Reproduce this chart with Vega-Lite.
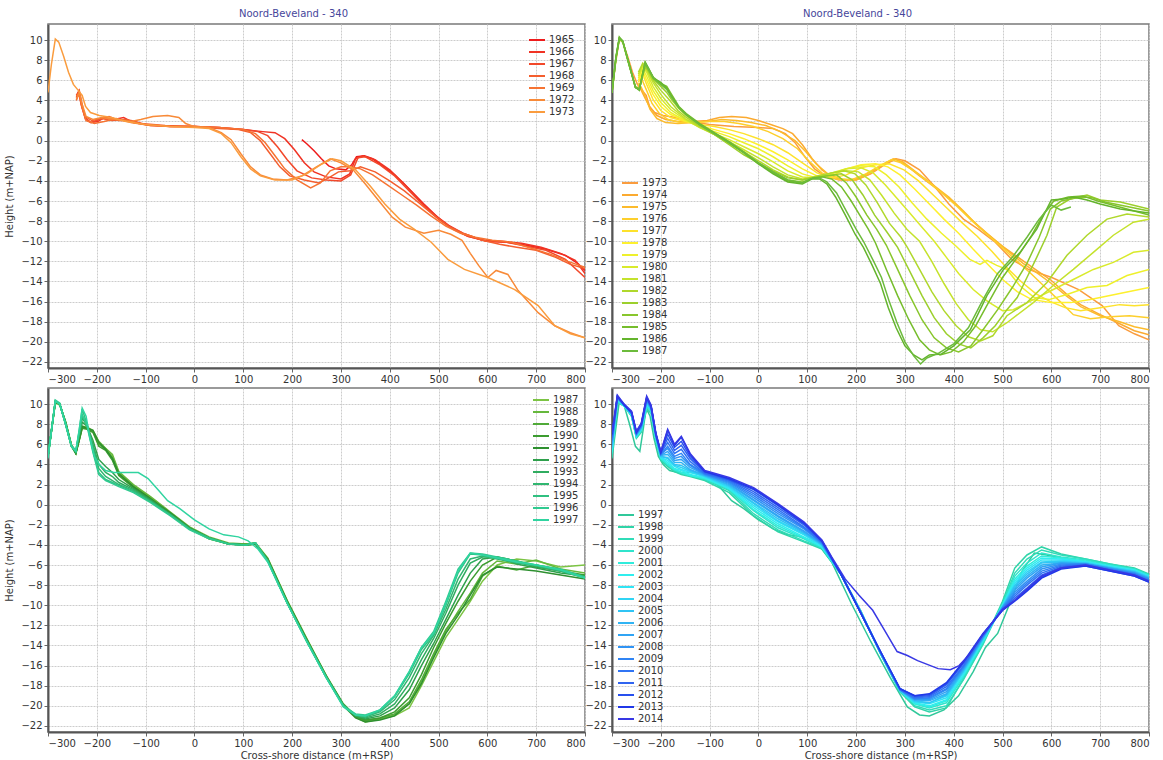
{
"$schema":"https://vega.github.io/schema/vega-lite/v6.json",
"background":"white",
"padding":{"left":4,"top":8,"right":6,"bottom":2},
"config":{
"font":"DejaVu Sans",
"view":{"stroke":"#7a7a7a","strokeWidth":1.5},
"axis":{"labelFont":"DejaVu Sans","labelFontSize":10,"labelColor":"#333333","gridColor":"#cccccc","gridDash":[2,1],"gridWidth":1,"domainColor":"#555555","domainWidth":2,"tickColor":"#666666","tickSize":4,"labelPadding":2,"titleFont":"DejaVu Sans","titleFontSize":10,"titleFontWeight":"normal","titleColor":"#333333"},
"legend":{"labelFont":"DejaVu Sans","labelFontSize":10,"labelColor":"#333333","symbolType":"M-1.6,0H1.6","symbolStrokeWidth":2,"symbolSize":100,"rowPadding":1,"padding":0,"labelOffset":6,"title":null},
"title":{"font":"DejaVu Sans","fontSize":10,"fontWeight":"normal","color":"#46469b"}
},
"resolve":{"scale":{"color":"independent"},"legend":{"color":"independent"}},
"datasets":{
"tl":[
{"yr":1965,"x":220,"h":0.1},{"yr":1965,"x":230,"h":-0.3},{"yr":1965,"x":245,"h":-1.0},{"yr":1965,"x":260,"h":-1.8},{"yr":1965,"x":275,"h":-2.5},{"yr":1965,"x":290,"h":-2.8},{"yr":1965,"x":310,"h":-2.9},{"yr":1965,"x":322,"h":-2.4},{"yr":1965,"x":332,"h":-1.6},{"yr":1965,"x":348,"h":-1.5},{"yr":1965,"x":365,"h":-1.8},{"yr":1965,"x":385,"h":-2.5},{"yr":1965,"x":410,"h":-3.4},{"yr":1965,"x":440,"h":-4.8},{"yr":1965,"x":470,"h":-6.3},{"yr":1965,"x":500,"h":-7.7},{"yr":1965,"x":530,"h":-8.8},{"yr":1965,"x":560,"h":-9.5},{"yr":1965,"x":600,"h":-10.0},{"yr":1965,"x":640,"h":-10.1},{"yr":1965,"x":680,"h":-10.4},{"yr":1965,"x":720,"h":-10.8},{"yr":1965,"x":760,"h":-11.4},{"yr":1965,"x":785,"h":-12.2},{"yr":1965,"x":800,"h":-12.9},
{"yr":1966,"x":-242,"h":4.3},{"yr":1966,"x":-237,"h":4.9},{"yr":1966,"x":-231,"h":3.4},{"yr":1966,"x":-223,"h":2.1},{"yr":1966,"x":-212,"h":1.8},{"yr":1966,"x":-198,"h":1.9},{"yr":1966,"x":-185,"h":2.3},{"yr":1966,"x":-165,"h":2.1},{"yr":1966,"x":-145,"h":2.3},{"yr":1966,"x":-125,"h":1.8},{"yr":1966,"x":-90,"h":1.5},{"yr":1966,"x":-50,"h":1.4},{"yr":1966,"x":0,"h":1.4},{"yr":1966,"x":50,"h":1.3},{"yr":1966,"x":100,"h":1.1},{"yr":1966,"x":140,"h":0.9},{"yr":1966,"x":165,"h":0.8},{"yr":1966,"x":185,"h":0.2},{"yr":1966,"x":205,"h":-0.9},{"yr":1966,"x":225,"h":-2.2},{"yr":1966,"x":245,"h":-3.1},{"yr":1966,"x":270,"h":-3.6},{"yr":1966,"x":300,"h":-3.8},{"yr":1966,"x":318,"h":-3.3},{"yr":1966,"x":330,"h":-1.8},{"yr":1966,"x":345,"h":-1.5},{"yr":1966,"x":370,"h":-1.9},{"yr":1966,"x":400,"h":-2.9},{"yr":1966,"x":430,"h":-4.3},{"yr":1966,"x":460,"h":-5.9},{"yr":1966,"x":490,"h":-7.3},{"yr":1966,"x":520,"h":-8.4},{"yr":1966,"x":550,"h":-9.2},{"yr":1966,"x":590,"h":-9.9},{"yr":1966,"x":630,"h":-10.0},{"yr":1966,"x":670,"h":-10.2},{"yr":1966,"x":710,"h":-10.6},{"yr":1966,"x":750,"h":-11.2},{"yr":1966,"x":780,"h":-11.9},{"yr":1966,"x":800,"h":-13.2},
{"yr":1967,"x":-242,"h":4.5},{"yr":1967,"x":-236,"h":5.0},{"yr":1967,"x":-231,"h":3.8},{"yr":1967,"x":-224,"h":2.3},{"yr":1967,"x":-212,"h":1.8},{"yr":1967,"x":-195,"h":2.1},{"yr":1967,"x":-175,"h":2.4},{"yr":1967,"x":-155,"h":2.0},{"yr":1967,"x":-130,"h":2.0},{"yr":1967,"x":-100,"h":1.6},{"yr":1967,"x":-50,"h":1.4},{"yr":1967,"x":0,"h":1.4},{"yr":1967,"x":50,"h":1.3},{"yr":1967,"x":100,"h":1.1},{"yr":1967,"x":130,"h":0.9},{"yr":1967,"x":150,"h":0.5},{"yr":1967,"x":170,"h":-0.6},{"yr":1967,"x":190,"h":-1.9},{"yr":1967,"x":210,"h":-3.0},{"yr":1967,"x":240,"h":-3.7},{"yr":1967,"x":270,"h":-3.9},{"yr":1967,"x":300,"h":-4.0},{"yr":1967,"x":320,"h":-3.4},{"yr":1967,"x":335,"h":-1.7},{"yr":1967,"x":350,"h":-1.6},{"yr":1967,"x":380,"h":-2.4},{"yr":1967,"x":410,"h":-3.5},{"yr":1967,"x":440,"h":-5.0},{"yr":1967,"x":470,"h":-6.5},{"yr":1967,"x":500,"h":-7.8},{"yr":1967,"x":530,"h":-8.8},{"yr":1967,"x":560,"h":-9.5},{"yr":1967,"x":600,"h":-10.0},{"yr":1967,"x":640,"h":-10.1},{"yr":1967,"x":680,"h":-10.5},{"yr":1967,"x":720,"h":-10.9},{"yr":1967,"x":760,"h":-11.8},{"yr":1967,"x":800,"h":-13.6},
{"yr":1968,"x":-242,"h":4.0},{"yr":1968,"x":-237,"h":4.7},{"yr":1968,"x":-232,"h":3.6},{"yr":1968,"x":-224,"h":2.4},{"yr":1968,"x":-210,"h":2.0},{"yr":1968,"x":-190,"h":2.2},{"yr":1968,"x":-170,"h":2.0},{"yr":1968,"x":-140,"h":2.1},{"yr":1968,"x":-110,"h":1.7},{"yr":1968,"x":-60,"h":1.5},{"yr":1968,"x":0,"h":1.4},{"yr":1968,"x":50,"h":1.2},{"yr":1968,"x":90,"h":1.1},{"yr":1968,"x":115,"h":0.8},{"yr":1968,"x":135,"h":0.0},{"yr":1968,"x":155,"h":-1.3},{"yr":1968,"x":175,"h":-2.6},{"yr":1968,"x":195,"h":-3.5},{"yr":1968,"x":225,"h":-3.9},{"yr":1968,"x":255,"h":-4.2},{"yr":1968,"x":275,"h":-3.7},{"yr":1968,"x":295,"h":-3.1},{"yr":1968,"x":320,"h":-3.0},{"yr":1968,"x":340,"h":-2.6},{"yr":1968,"x":370,"h":-3.1},{"yr":1968,"x":400,"h":-4.0},{"yr":1968,"x":430,"h":-5.0},{"yr":1968,"x":460,"h":-6.2},{"yr":1968,"x":490,"h":-7.4},{"yr":1968,"x":520,"h":-8.5},{"yr":1968,"x":550,"h":-9.2},{"yr":1968,"x":590,"h":-9.9},{"yr":1968,"x":625,"h":-10.3},{"yr":1968,"x":660,"h":-10.6},{"yr":1968,"x":700,"h":-10.9},{"yr":1968,"x":740,"h":-11.6},{"yr":1968,"x":770,"h":-12.3},{"yr":1968,"x":800,"h":-12.7},
{"yr":1969,"x":-242,"h":4.4},{"yr":1969,"x":-236,"h":4.8},{"yr":1969,"x":-230,"h":3.3},{"yr":1969,"x":-222,"h":2.0},{"yr":1969,"x":-205,"h":1.7},{"yr":1969,"x":-185,"h":1.9},{"yr":1969,"x":-160,"h":2.2},{"yr":1969,"x":-130,"h":1.8},{"yr":1969,"x":-90,"h":1.5},{"yr":1969,"x":-40,"h":1.4},{"yr":1969,"x":0,"h":1.4},{"yr":1969,"x":50,"h":1.3},{"yr":1969,"x":100,"h":1.1},{"yr":1969,"x":125,"h":0.7},{"yr":1969,"x":145,"h":-0.2},{"yr":1969,"x":165,"h":-1.5},{"yr":1969,"x":185,"h":-2.8},{"yr":1969,"x":210,"h":-3.9},{"yr":1969,"x":238,"h":-4.7},{"yr":1969,"x":258,"h":-4.2},{"yr":1969,"x":278,"h":-3.0},{"yr":1969,"x":300,"h":-2.6},{"yr":1969,"x":320,"h":-2.6},{"yr":1969,"x":340,"h":-2.8},{"yr":1969,"x":365,"h":-3.4},{"yr":1969,"x":395,"h":-4.4},{"yr":1969,"x":425,"h":-5.4},{"yr":1969,"x":455,"h":-6.4},{"yr":1969,"x":485,"h":-7.5},{"yr":1969,"x":515,"h":-8.5},{"yr":1969,"x":545,"h":-9.2},{"yr":1969,"x":575,"h":-9.6},{"yr":1969,"x":610,"h":-9.9},{"yr":1969,"x":650,"h":-10.1},{"yr":1969,"x":690,"h":-10.7},{"yr":1969,"x":730,"h":-11.3},{"yr":1969,"x":765,"h":-12.0},{"yr":1969,"x":800,"h":-12.6},
{"yr":1972,"x":-242,"h":4.1},{"yr":1972,"x":-236,"h":4.8},{"yr":1972,"x":-230,"h":3.6},{"yr":1972,"x":-222,"h":2.4},{"yr":1972,"x":-208,"h":2.1},{"yr":1972,"x":-190,"h":2.3},{"yr":1972,"x":-160,"h":2.1},{"yr":1972,"x":-130,"h":1.9},{"yr":1972,"x":-110,"h":2.1},{"yr":1972,"x":-85,"h":2.4},{"yr":1972,"x":-55,"h":2.5},{"yr":1972,"x":-32,"h":2.3},{"yr":1972,"x":-18,"h":1.7},{"yr":1972,"x":0,"h":1.4},{"yr":1972,"x":30,"h":1.3},{"yr":1972,"x":55,"h":0.8},{"yr":1972,"x":75,"h":0.1},{"yr":1972,"x":95,"h":-1.3},{"yr":1972,"x":115,"h":-2.6},{"yr":1972,"x":135,"h":-3.4},{"yr":1972,"x":160,"h":-3.8},{"yr":1972,"x":190,"h":-3.9},{"yr":1972,"x":220,"h":-3.5},{"yr":1972,"x":250,"h":-2.6},{"yr":1972,"x":278,"h":-1.8},{"yr":1972,"x":300,"h":-2.2},{"yr":1972,"x":325,"h":-2.9},{"yr":1972,"x":350,"h":-4.3},{"yr":1972,"x":378,"h":-6.0},{"yr":1972,"x":405,"h":-7.6},{"yr":1972,"x":432,"h":-8.6},{"yr":1972,"x":470,"h":-9.2},{"yr":1972,"x":500,"h":-8.9},{"yr":1972,"x":525,"h":-9.3},{"yr":1972,"x":548,"h":-9.9},{"yr":1972,"x":565,"h":-11.2},{"yr":1972,"x":582,"h":-12.4},{"yr":1972,"x":601,"h":-13.6},{"yr":1972,"x":618,"h":-12.9},{"yr":1972,"x":642,"h":-13.3},{"yr":1972,"x":663,"h":-14.9},{"yr":1972,"x":704,"h":-17.1},{"yr":1972,"x":738,"h":-18.4},{"yr":1972,"x":770,"h":-19.1},{"yr":1972,"x":800,"h":-19.6},
{"yr":1973,"x":-300,"h":4.8},{"yr":1973,"x":-293,"h":7.6},{"yr":1973,"x":-285,"h":10.1},{"yr":1973,"x":-278,"h":9.8},{"yr":1973,"x":-268,"h":8.4},{"yr":1973,"x":-258,"h":6.8},{"yr":1973,"x":-248,"h":5.6},{"yr":1973,"x":-238,"h":5.0},{"yr":1973,"x":-230,"h":4.5},{"yr":1973,"x":-223,"h":3.4},{"yr":1973,"x":-213,"h":2.8},{"yr":1973,"x":-195,"h":2.5},{"yr":1973,"x":-170,"h":2.3},{"yr":1973,"x":-140,"h":1.9},{"yr":1973,"x":-100,"h":1.6},{"yr":1973,"x":-50,"h":1.4},{"yr":1973,"x":0,"h":1.3},{"yr":1973,"x":30,"h":1.2},{"yr":1973,"x":55,"h":0.7},{"yr":1973,"x":75,"h":-0.2},{"yr":1973,"x":95,"h":-1.6},{"yr":1973,"x":115,"h":-2.8},{"yr":1973,"x":135,"h":-3.5},{"yr":1973,"x":165,"h":-3.9},{"yr":1973,"x":200,"h":-3.9},{"yr":1973,"x":230,"h":-3.3},{"yr":1973,"x":258,"h":-2.4},{"yr":1973,"x":282,"h":-1.8},{"yr":1973,"x":300,"h":-2.0},{"yr":1973,"x":330,"h":-2.9},{"yr":1973,"x":360,"h":-4.5},{"yr":1973,"x":390,"h":-6.3},{"yr":1973,"x":420,"h":-7.8},{"yr":1973,"x":450,"h":-8.8},{"yr":1973,"x":485,"h":-10.1},{"yr":1973,"x":519,"h":-11.8},{"yr":1973,"x":553,"h":-12.8},{"yr":1973,"x":601,"h":-13.6},{"yr":1973,"x":656,"h":-14.8},{"yr":1973,"x":704,"h":-16.4},{"yr":1973,"x":738,"h":-18.4},{"yr":1973,"x":770,"h":-19.2},{"yr":1973,"x":800,"h":-19.6}
],
"tr":[
{"yr":1973,"x":-300,"h":4.8},{"yr":1973,"x":-293,"h":7.6},{"yr":1973,"x":-285,"h":10.1},{"yr":1973,"x":-278,"h":9.8},{"yr":1973,"x":-268,"h":8.4},{"yr":1973,"x":-258,"h":6.8},{"yr":1973,"x":-248,"h":5.6},{"yr":1973,"x":-238,"h":5.0},{"yr":1973,"x":-230,"h":4.5},{"yr":1973,"x":-223,"h":3.4},{"yr":1973,"x":-213,"h":2.8},{"yr":1973,"x":-195,"h":2.5},{"yr":1973,"x":-170,"h":2.3},{"yr":1973,"x":-140,"h":1.9},{"yr":1973,"x":-100,"h":1.6},{"yr":1973,"x":-50,"h":1.4},{"yr":1973,"x":0,"h":1.3},{"yr":1973,"x":30,"h":1.2},{"yr":1973,"x":55,"h":0.7},{"yr":1973,"x":75,"h":-0.2},{"yr":1973,"x":95,"h":-1.6},{"yr":1973,"x":115,"h":-2.8},{"yr":1973,"x":135,"h":-3.5},{"yr":1973,"x":165,"h":-3.9},{"yr":1973,"x":200,"h":-3.9},{"yr":1973,"x":230,"h":-3.3},{"yr":1973,"x":258,"h":-2.4},{"yr":1973,"x":282,"h":-1.8},{"yr":1973,"x":300,"h":-2.0},{"yr":1973,"x":330,"h":-2.9},{"yr":1973,"x":360,"h":-4.5},{"yr":1973,"x":390,"h":-6.3},{"yr":1973,"x":420,"h":-7.8},{"yr":1973,"x":450,"h":-8.8},{"yr":1973,"x":485,"h":-10.1},{"yr":1973,"x":519,"h":-11.8},{"yr":1973,"x":553,"h":-12.8},{"yr":1973,"x":601,"h":-13.6},{"yr":1973,"x":656,"h":-14.8},{"yr":1973,"x":704,"h":-16.4},{"yr":1973,"x":738,"h":-18.4},{"yr":1973,"x":770,"h":-19.2},{"yr":1973,"x":800,"h":-19.8},
{"yr":1974,"x":-246,"h":5.4},{"yr":1974,"x":-240,"h":5.0},{"yr":1974,"x":-232,"h":4.2},{"yr":1974,"x":-222,"h":3.3},{"yr":1974,"x":-208,"h":2.5},{"yr":1974,"x":-190,"h":2.1},{"yr":1974,"x":-165,"h":1.9},{"yr":1974,"x":-135,"h":1.9},{"yr":1974,"x":-105,"h":2.0},{"yr":1974,"x":-80,"h":2.3},{"yr":1974,"x":-55,"h":2.4},{"yr":1974,"x":-25,"h":2.3},{"yr":1974,"x":0,"h":2.0},{"yr":1974,"x":25,"h":1.6},{"yr":1974,"x":50,"h":1.2},{"yr":1974,"x":70,"h":0.7},{"yr":1974,"x":90,"h":-0.4},{"yr":1974,"x":110,"h":-1.8},{"yr":1974,"x":130,"h":-2.9},{"yr":1974,"x":150,"h":-3.6},{"yr":1974,"x":175,"h":-3.9},{"yr":1974,"x":200,"h":-3.8},{"yr":1974,"x":230,"h":-3.1},{"yr":1974,"x":258,"h":-2.3},{"yr":1974,"x":280,"h":-1.8},{"yr":1974,"x":302,"h":-2.4},{"yr":1974,"x":330,"h":-3.5},{"yr":1974,"x":360,"h":-4.6},{"yr":1974,"x":400,"h":-6.1},{"yr":1974,"x":435,"h":-7.8},{"yr":1974,"x":468,"h":-9.2},{"yr":1974,"x":500,"h":-10.5},{"yr":1974,"x":535,"h":-11.7},{"yr":1974,"x":570,"h":-12.9},{"yr":1974,"x":600,"h":-13.9},{"yr":1974,"x":630,"h":-15.2},{"yr":1974,"x":660,"h":-16.3},{"yr":1974,"x":700,"h":-17.3},{"yr":1974,"x":740,"h":-18.2},{"yr":1974,"x":770,"h":-18.9},{"yr":1974,"x":800,"h":-19.3},
{"yr":1975,"x":-246,"h":5.7},{"yr":1975,"x":-240,"h":5.3},{"yr":1975,"x":-232,"h":4.4},{"yr":1975,"x":-222,"h":3.1},{"yr":1975,"x":-208,"h":2.2},{"yr":1975,"x":-190,"h":1.8},{"yr":1975,"x":-165,"h":1.7},{"yr":1975,"x":-135,"h":1.8},{"yr":1975,"x":-105,"h":1.9},{"yr":1975,"x":-75,"h":2.1},{"yr":1975,"x":-45,"h":2.0},{"yr":1975,"x":-15,"h":1.8},{"yr":1975,"x":15,"h":1.5},{"yr":1975,"x":45,"h":0.9},{"yr":1975,"x":75,"h":0.0},{"yr":1975,"x":97,"h":-1.1},{"yr":1975,"x":118,"h":-2.3},{"yr":1975,"x":142,"h":-3.3},{"yr":1975,"x":168,"h":-3.8},{"yr":1975,"x":200,"h":-3.9},{"yr":1975,"x":228,"h":-3.3},{"yr":1975,"x":254,"h":-2.4},{"yr":1975,"x":276,"h":-1.8},{"yr":1975,"x":296,"h":-2.1},{"yr":1975,"x":325,"h":-3.2},{"yr":1975,"x":355,"h":-4.3},{"yr":1975,"x":390,"h":-5.6},{"yr":1975,"x":420,"h":-7.0},{"yr":1975,"x":452,"h":-8.6},{"yr":1975,"x":482,"h":-9.8},{"yr":1975,"x":512,"h":-11.0},{"yr":1975,"x":542,"h":-12.2},{"yr":1975,"x":572,"h":-13.2},{"yr":1975,"x":600,"h":-14.2},{"yr":1975,"x":630,"h":-15.4},{"yr":1975,"x":660,"h":-16.5},{"yr":1975,"x":700,"h":-17.4},{"yr":1975,"x":740,"h":-18.0},{"yr":1975,"x":770,"h":-18.5},{"yr":1975,"x":800,"h":-18.8},
{"yr":1976,"x":-246,"h":5.5},{"yr":1976,"x":-238,"h":6.0},{"yr":1976,"x":-230,"h":5.1},{"yr":1976,"x":-218,"h":3.7},{"yr":1976,"x":-203,"h":2.7},{"yr":1976,"x":-185,"h":2.1},{"yr":1976,"x":-160,"h":1.8},{"yr":1976,"x":-130,"h":1.8},{"yr":1976,"x":-100,"h":1.9},{"yr":1976,"x":-70,"h":1.9},{"yr":1976,"x":-40,"h":1.7},{"yr":1976,"x":-10,"h":1.4},{"yr":1976,"x":20,"h":0.9},{"yr":1976,"x":50,"h":0.2},{"yr":1976,"x":80,"h":-0.8},{"yr":1976,"x":105,"h":-2.1},{"yr":1976,"x":130,"h":-3.2},{"yr":1976,"x":160,"h":-3.8},{"yr":1976,"x":190,"h":-3.9},{"yr":1976,"x":220,"h":-3.3},{"yr":1976,"x":248,"h":-2.5},{"yr":1976,"x":272,"h":-1.9},{"yr":1976,"x":292,"h":-2.2},{"yr":1976,"x":318,"h":-3.0},{"yr":1976,"x":348,"h":-4.1},{"yr":1976,"x":378,"h":-5.3},{"yr":1976,"x":408,"h":-6.6},{"yr":1976,"x":438,"h":-8.0},{"yr":1976,"x":468,"h":-9.3},{"yr":1976,"x":498,"h":-10.6},{"yr":1976,"x":528,"h":-11.9},{"yr":1976,"x":558,"h":-13.2},{"yr":1976,"x":588,"h":-14.6},{"yr":1976,"x":618,"h":-16.0},{"yr":1976,"x":645,"h":-17.3},{"yr":1976,"x":680,"h":-17.7},{"yr":1976,"x":720,"h":-17.5},{"yr":1976,"x":760,"h":-17.4},{"yr":1976,"x":800,"h":-17.6},
{"yr":1977,"x":-246,"h":5.8},{"yr":1977,"x":-237,"h":6.6},{"yr":1977,"x":-229,"h":5.6},{"yr":1977,"x":-216,"h":4.1},{"yr":1977,"x":-200,"h":3.0},{"yr":1977,"x":-180,"h":2.3},{"yr":1977,"x":-150,"h":1.9},{"yr":1977,"x":-120,"h":1.6},{"yr":1977,"x":-90,"h":1.4},{"yr":1977,"x":-60,"h":1.1},{"yr":1977,"x":-30,"h":0.7},{"yr":1977,"x":0,"h":0.2},{"yr":1977,"x":30,"h":-0.4},{"yr":1977,"x":60,"h":-1.2},{"yr":1977,"x":90,"h":-2.2},{"yr":1977,"x":120,"h":-3.2},{"yr":1977,"x":150,"h":-3.7},{"yr":1977,"x":180,"h":-3.4},{"yr":1977,"x":210,"h":-2.7},{"yr":1977,"x":240,"h":-2.4},{"yr":1977,"x":268,"h":-2.3},{"yr":1977,"x":298,"h":-2.9},{"yr":1977,"x":328,"h":-4.0},{"yr":1977,"x":358,"h":-5.4},{"yr":1977,"x":388,"h":-6.8},{"yr":1977,"x":418,"h":-8.2},{"yr":1977,"x":448,"h":-9.5},{"yr":1977,"x":478,"h":-11.0},{"yr":1977,"x":508,"h":-12.6},{"yr":1977,"x":538,"h":-14.0},{"yr":1977,"x":568,"h":-15.2},{"yr":1977,"x":598,"h":-16.0},{"yr":1977,"x":628,"h":-16.6},{"yr":1977,"x":660,"h":-16.9},{"yr":1977,"x":700,"h":-16.6},{"yr":1977,"x":740,"h":-16.3},{"yr":1977,"x":770,"h":-16.4},{"yr":1977,"x":800,"h":-16.3},
{"yr":1978,"x":-246,"h":6.0},{"yr":1978,"x":-237,"h":6.9},{"yr":1978,"x":-229,"h":6.0},{"yr":1978,"x":-216,"h":4.6},{"yr":1978,"x":-200,"h":3.4},{"yr":1978,"x":-180,"h":2.6},{"yr":1978,"x":-150,"h":2.0},{"yr":1978,"x":-120,"h":1.5},{"yr":1978,"x":-90,"h":1.1},{"yr":1978,"x":-60,"h":0.7},{"yr":1978,"x":-30,"h":0.2},{"yr":1978,"x":0,"h":-0.4},{"yr":1978,"x":30,"h":-1.1},{"yr":1978,"x":60,"h":-1.9},{"yr":1978,"x":90,"h":-2.8},{"yr":1978,"x":120,"h":-3.5},{"yr":1978,"x":150,"h":-3.5},{"yr":1978,"x":180,"h":-2.8},{"yr":1978,"x":210,"h":-2.4},{"yr":1978,"x":240,"h":-2.3},{"yr":1978,"x":265,"h":-2.6},{"yr":1978,"x":290,"h":-3.4},{"yr":1978,"x":320,"h":-4.8},{"yr":1978,"x":350,"h":-6.3},{"yr":1978,"x":380,"h":-7.8},{"yr":1978,"x":410,"h":-9.2},{"yr":1978,"x":440,"h":-10.8},{"yr":1978,"x":470,"h":-12.3},{"yr":1978,"x":500,"h":-13.8},{"yr":1978,"x":530,"h":-15.0},{"yr":1978,"x":560,"h":-15.8},{"yr":1978,"x":600,"h":-16.1},{"yr":1978,"x":640,"h":-16.1},{"yr":1978,"x":680,"h":-15.8},{"yr":1978,"x":720,"h":-15.4},{"yr":1978,"x":760,"h":-15.0},{"yr":1978,"x":800,"h":-14.6},
{"yr":1979,"x":-246,"h":6.2},{"yr":1979,"x":-237,"h":7.2},{"yr":1979,"x":-229,"h":6.4},{"yr":1979,"x":-216,"h":5.0},{"yr":1979,"x":-200,"h":3.8},{"yr":1979,"x":-180,"h":2.8},{"yr":1979,"x":-150,"h":2.0},{"yr":1979,"x":-120,"h":1.4},{"yr":1979,"x":-90,"h":0.9},{"yr":1979,"x":-60,"h":0.4},{"yr":1979,"x":-30,"h":-0.2},{"yr":1979,"x":0,"h":-0.8},{"yr":1979,"x":30,"h":-1.6},{"yr":1979,"x":60,"h":-2.5},{"yr":1979,"x":90,"h":-3.3},{"yr":1979,"x":120,"h":-3.7},{"yr":1979,"x":150,"h":-3.3},{"yr":1979,"x":180,"h":-2.8},{"yr":1979,"x":210,"h":-2.5},{"yr":1979,"x":238,"h":-2.6},{"yr":1979,"x":262,"h":-3.4},{"yr":1979,"x":288,"h":-4.6},{"yr":1979,"x":315,"h":-6.2},{"yr":1979,"x":345,"h":-7.8},{"yr":1979,"x":375,"h":-9.2},{"yr":1979,"x":405,"h":-10.5},{"yr":1979,"x":433,"h":-11.8},{"yr":1979,"x":454,"h":-12.3},{"yr":1979,"x":468,"h":-11.9},{"yr":1979,"x":488,"h":-12.4},{"yr":1979,"x":509,"h":-12.8},{"yr":1979,"x":535,"h":-14.4},{"yr":1979,"x":565,"h":-15.6},{"yr":1979,"x":595,"h":-15.8},{"yr":1979,"x":632,"h":-15.3},{"yr":1979,"x":673,"h":-14.6},{"yr":1979,"x":714,"h":-14.4},{"yr":1979,"x":755,"h":-13.4},{"yr":1979,"x":800,"h":-12.8},
{"yr":1980,"x":-246,"h":6.4},{"yr":1980,"x":-237,"h":7.4},{"yr":1980,"x":-229,"h":6.8},{"yr":1980,"x":-216,"h":5.4},{"yr":1980,"x":-200,"h":4.2},{"yr":1980,"x":-180,"h":3.1},{"yr":1980,"x":-150,"h":2.1},{"yr":1980,"x":-120,"h":1.3},{"yr":1980,"x":-90,"h":0.7},{"yr":1980,"x":-60,"h":0.1},{"yr":1980,"x":-30,"h":-0.6},{"yr":1980,"x":0,"h":-1.3},{"yr":1980,"x":30,"h":-2.1},{"yr":1980,"x":60,"h":-3.0},{"yr":1980,"x":90,"h":-3.6},{"yr":1980,"x":120,"h":-3.7},{"yr":1980,"x":150,"h":-3.2},{"yr":1980,"x":180,"h":-2.8},{"yr":1980,"x":210,"h":-2.7},{"yr":1980,"x":235,"h":-3.2},{"yr":1980,"x":260,"h":-4.4},{"yr":1980,"x":285,"h":-5.8},{"yr":1980,"x":310,"h":-7.2},{"yr":1980,"x":335,"h":-8.6},{"yr":1980,"x":360,"h":-10.0},{"yr":1980,"x":385,"h":-11.6},{"yr":1980,"x":410,"h":-13.2},{"yr":1980,"x":440,"h":-14.8},{"yr":1980,"x":470,"h":-16.0},{"yr":1980,"x":500,"h":-16.9},{"yr":1980,"x":522,"h":-16.8},{"yr":1980,"x":563,"h":-15.8},{"yr":1980,"x":604,"h":-14.8},{"yr":1980,"x":645,"h":-13.8},{"yr":1980,"x":686,"h":-12.8},{"yr":1980,"x":727,"h":-12.1},{"yr":1980,"x":768,"h":-11.1},{"yr":1980,"x":800,"h":-10.9},
{"yr":1981,"x":-246,"h":6.6},{"yr":1981,"x":-237,"h":7.6},{"yr":1981,"x":-229,"h":7.0},{"yr":1981,"x":-216,"h":5.8},{"yr":1981,"x":-200,"h":4.6},{"yr":1981,"x":-180,"h":3.4},{"yr":1981,"x":-150,"h":2.2},{"yr":1981,"x":-120,"h":1.3},{"yr":1981,"x":-90,"h":0.6},{"yr":1981,"x":-60,"h":-0.1},{"yr":1981,"x":-30,"h":-0.9},{"yr":1981,"x":0,"h":-1.7},{"yr":1981,"x":30,"h":-2.6},{"yr":1981,"x":60,"h":-3.4},{"yr":1981,"x":90,"h":-3.8},{"yr":1981,"x":120,"h":-3.6},{"yr":1981,"x":150,"h":-3.2},{"yr":1981,"x":180,"h":-3.0},{"yr":1981,"x":205,"h":-3.1},{"yr":1981,"x":228,"h":-3.9},{"yr":1981,"x":252,"h":-5.4},{"yr":1981,"x":278,"h":-7.2},{"yr":1981,"x":304,"h":-8.8},{"yr":1981,"x":330,"h":-10.0},{"yr":1981,"x":355,"h":-12.0},{"yr":1981,"x":380,"h":-14.2},{"yr":1981,"x":405,"h":-16.2},{"yr":1981,"x":430,"h":-17.8},{"yr":1981,"x":455,"h":-18.8},{"yr":1981,"x":480,"h":-19.0},{"yr":1981,"x":509,"h":-18.1},{"yr":1981,"x":563,"h":-16.1},{"yr":1981,"x":604,"h":-14.4},{"yr":1981,"x":645,"h":-12.8},{"yr":1981,"x":686,"h":-11.1},{"yr":1981,"x":727,"h":-9.4},{"yr":1981,"x":768,"h":-8.1},{"yr":1981,"x":800,"h":-7.8},
{"yr":1982,"x":-246,"h":6.8},{"yr":1982,"x":-237,"h":7.7},{"yr":1982,"x":-229,"h":7.2},{"yr":1982,"x":-216,"h":6.0},{"yr":1982,"x":-200,"h":5.0},{"yr":1982,"x":-185,"h":4.2},{"yr":1982,"x":-165,"h":3.0},{"yr":1982,"x":-150,"h":2.4},{"yr":1982,"x":-120,"h":1.4},{"yr":1982,"x":-90,"h":0.6},{"yr":1982,"x":-60,"h":-0.3},{"yr":1982,"x":-30,"h":-1.1},{"yr":1982,"x":0,"h":-2.0},{"yr":1982,"x":30,"h":-2.9},{"yr":1982,"x":60,"h":-3.6},{"yr":1982,"x":90,"h":-3.9},{"yr":1982,"x":120,"h":-3.5},{"yr":1982,"x":150,"h":-3.2},{"yr":1982,"x":175,"h":-3.0},{"yr":1982,"x":198,"h":-3.3},{"yr":1982,"x":220,"h":-4.4},{"yr":1982,"x":244,"h":-6.2},{"yr":1982,"x":268,"h":-8.2},{"yr":1982,"x":292,"h":-9.6},{"yr":1982,"x":305,"h":-10.6},{"yr":1982,"x":330,"h":-12.8},{"yr":1982,"x":355,"h":-15.0},{"yr":1982,"x":380,"h":-16.9},{"yr":1982,"x":405,"h":-18.4},{"yr":1982,"x":430,"h":-19.5},{"yr":1982,"x":455,"h":-19.9},{"yr":1982,"x":480,"h":-19.4},{"yr":1982,"x":509,"h":-17.4},{"yr":1982,"x":550,"h":-16.1},{"yr":1982,"x":591,"h":-14.1},{"yr":1982,"x":632,"h":-11.4},{"yr":1982,"x":673,"h":-9.4},{"yr":1982,"x":714,"h":-7.8},{"yr":1982,"x":755,"h":-7.3},{"yr":1982,"x":800,"h":-7.6},
{"yr":1983,"x":-300,"h":4.8},{"yr":1983,"x":-292,"h":8.1},{"yr":1983,"x":-285,"h":10.1},{"yr":1983,"x":-278,"h":9.8},{"yr":1983,"x":-265,"h":7.5},{"yr":1983,"x":-252,"h":5.4},{"yr":1983,"x":-244,"h":5.2},{"yr":1983,"x":-238,"h":6.3},{"yr":1983,"x":-232,"h":7.3},{"yr":1983,"x":-226,"h":7.0},{"yr":1983,"x":-215,"h":6.1},{"yr":1983,"x":-200,"h":5.4},{"yr":1983,"x":-188,"h":4.8},{"yr":1983,"x":-178,"h":4.1},{"yr":1983,"x":-163,"h":3.2},{"yr":1983,"x":-148,"h":2.5},{"yr":1983,"x":-120,"h":1.5},{"yr":1983,"x":-90,"h":0.6},{"yr":1983,"x":-60,"h":-0.4},{"yr":1983,"x":-30,"h":-1.4},{"yr":1983,"x":0,"h":-2.2},{"yr":1983,"x":30,"h":-3.0},{"yr":1983,"x":60,"h":-3.7},{"yr":1983,"x":90,"h":-3.9},{"yr":1983,"x":120,"h":-3.6},{"yr":1983,"x":150,"h":-3.4},{"yr":1983,"x":170,"h":-3.3},{"yr":1983,"x":192,"h":-3.9},{"yr":1983,"x":214,"h":-5.4},{"yr":1983,"x":238,"h":-7.4},{"yr":1983,"x":262,"h":-9.0},{"yr":1983,"x":285,"h":-10.6},{"yr":1983,"x":310,"h":-13.0},{"yr":1983,"x":335,"h":-15.4},{"yr":1983,"x":360,"h":-17.6},{"yr":1983,"x":385,"h":-19.2},{"yr":1983,"x":410,"h":-20.2},{"yr":1983,"x":435,"h":-20.6},{"yr":1983,"x":460,"h":-19.6},{"yr":1983,"x":485,"h":-18.4},{"yr":1983,"x":509,"h":-16.8},{"yr":1983,"x":530,"h":-15.6},{"yr":1983,"x":550,"h":-13.6},{"yr":1983,"x":570,"h":-11.6},{"yr":1983,"x":591,"h":-9.4},{"yr":1983,"x":611,"h":-6.6},{"yr":1983,"x":638,"h":-5.8},{"yr":1983,"x":673,"h":-5.4},{"yr":1983,"x":700,"h":-5.9},{"yr":1983,"x":741,"h":-6.1},{"yr":1983,"x":800,"h":-6.8},
{"yr":1984,"x":-300,"h":4.8},{"yr":1984,"x":-292,"h":8.2},{"yr":1984,"x":-285,"h":10.2},{"yr":1984,"x":-278,"h":9.9},{"yr":1984,"x":-265,"h":7.6},{"yr":1984,"x":-252,"h":5.3},{"yr":1984,"x":-244,"h":5.1},{"yr":1984,"x":-238,"h":6.4},{"yr":1984,"x":-232,"h":7.6},{"yr":1984,"x":-226,"h":7.1},{"yr":1984,"x":-215,"h":6.2},{"yr":1984,"x":-200,"h":5.6},{"yr":1984,"x":-188,"h":5.3},{"yr":1984,"x":-178,"h":4.4},{"yr":1984,"x":-163,"h":3.3},{"yr":1984,"x":-148,"h":2.6},{"yr":1984,"x":-120,"h":1.6},{"yr":1984,"x":-90,"h":0.7},{"yr":1984,"x":-60,"h":-0.2},{"yr":1984,"x":-30,"h":-1.2},{"yr":1984,"x":0,"h":-2.3},{"yr":1984,"x":30,"h":-3.1},{"yr":1984,"x":60,"h":-3.9},{"yr":1984,"x":90,"h":-4.1},{"yr":1984,"x":115,"h":-3.7},{"yr":1984,"x":140,"h":-3.5},{"yr":1984,"x":160,"h":-3.4},{"yr":1984,"x":180,"h":-4.2},{"yr":1984,"x":200,"h":-5.6},{"yr":1984,"x":222,"h":-7.4},{"yr":1984,"x":242,"h":-8.8},{"yr":1984,"x":262,"h":-10.4},{"yr":1984,"x":285,"h":-12.8},{"yr":1984,"x":310,"h":-15.4},{"yr":1984,"x":335,"h":-17.8},{"yr":1984,"x":360,"h":-19.6},{"yr":1984,"x":385,"h":-20.6},{"yr":1984,"x":410,"h":-21.0},{"yr":1984,"x":435,"h":-20.4},{"yr":1984,"x":460,"h":-18.8},{"yr":1984,"x":490,"h":-16.8},{"yr":1984,"x":520,"h":-14.6},{"yr":1984,"x":550,"h":-12.2},{"yr":1984,"x":575,"h":-9.6},{"yr":1984,"x":598,"h":-6.8},{"yr":1984,"x":620,"h":-6.0},{"yr":1984,"x":650,"h":-5.7},{"yr":1984,"x":680,"h":-5.6},{"yr":1984,"x":710,"h":-6.1},{"yr":1984,"x":750,"h":-6.5},{"yr":1984,"x":800,"h":-7.0},
{"yr":1985,"x":-300,"h":4.8},{"yr":1985,"x":-292,"h":8.2},{"yr":1985,"x":-285,"h":10.2},{"yr":1985,"x":-278,"h":9.9},{"yr":1985,"x":-265,"h":7.6},{"yr":1985,"x":-252,"h":5.3},{"yr":1985,"x":-244,"h":5.1},{"yr":1985,"x":-238,"h":6.5},{"yr":1985,"x":-232,"h":7.8},{"yr":1985,"x":-226,"h":7.2},{"yr":1985,"x":-215,"h":6.3},{"yr":1985,"x":-200,"h":5.7},{"yr":1985,"x":-188,"h":5.4},{"yr":1985,"x":-178,"h":4.6},{"yr":1985,"x":-163,"h":3.4},{"yr":1985,"x":-148,"h":2.7},{"yr":1985,"x":-120,"h":1.7},{"yr":1985,"x":-90,"h":0.8},{"yr":1985,"x":-60,"h":-0.1},{"yr":1985,"x":-30,"h":-1.1},{"yr":1985,"x":0,"h":-2.2},{"yr":1985,"x":30,"h":-3.2},{"yr":1985,"x":60,"h":-4.0},{"yr":1985,"x":90,"h":-4.2},{"yr":1985,"x":112,"h":-3.7},{"yr":1985,"x":130,"h":-3.6},{"yr":1985,"x":150,"h":-3.8},{"yr":1985,"x":170,"h":-4.6},{"yr":1985,"x":190,"h":-6.0},{"yr":1985,"x":210,"h":-7.6},{"yr":1985,"x":225,"h":-8.8},{"yr":1985,"x":240,"h":-10.2},{"yr":1985,"x":262,"h":-12.8},{"yr":1985,"x":285,"h":-15.4},{"yr":1985,"x":308,"h":-17.8},{"yr":1985,"x":330,"h":-19.8},{"yr":1985,"x":350,"h":-20.8},{"yr":1985,"x":372,"h":-21.3},{"yr":1985,"x":395,"h":-21.0},{"yr":1985,"x":420,"h":-20.0},{"yr":1985,"x":445,"h":-18.4},{"yr":1985,"x":470,"h":-16.2},{"yr":1985,"x":500,"h":-13.6},{"yr":1985,"x":530,"h":-11.6},{"yr":1985,"x":560,"h":-9.4},{"yr":1985,"x":585,"h":-7.2},{"yr":1985,"x":605,"h":-6.0},{"yr":1985,"x":635,"h":-5.6},{"yr":1985,"x":665,"h":-5.5},{"yr":1985,"x":695,"h":-6.0},{"yr":1985,"x":740,"h":-6.6},{"yr":1985,"x":800,"h":-7.4},
{"yr":1986,"x":-300,"h":4.8},{"yr":1986,"x":-292,"h":8.3},{"yr":1986,"x":-285,"h":10.3},{"yr":1986,"x":-278,"h":9.9},{"yr":1986,"x":-265,"h":7.6},{"yr":1986,"x":-252,"h":5.3},{"yr":1986,"x":-244,"h":5.0},{"yr":1986,"x":-238,"h":6.5},{"yr":1986,"x":-232,"h":7.8},{"yr":1986,"x":-226,"h":7.3},{"yr":1986,"x":-215,"h":6.2},{"yr":1986,"x":-200,"h":5.8},{"yr":1986,"x":-188,"h":5.2},{"yr":1986,"x":-178,"h":4.4},{"yr":1986,"x":-163,"h":3.3},{"yr":1986,"x":-148,"h":2.6},{"yr":1986,"x":-120,"h":1.6},{"yr":1986,"x":-90,"h":0.7},{"yr":1986,"x":-60,"h":-0.2},{"yr":1986,"x":-30,"h":-1.2},{"yr":1986,"x":0,"h":-2.3},{"yr":1986,"x":30,"h":-3.3},{"yr":1986,"x":60,"h":-4.1},{"yr":1986,"x":90,"h":-4.3},{"yr":1986,"x":110,"h":-3.8},{"yr":1986,"x":125,"h":-3.8},{"yr":1986,"x":140,"h":-4.3},{"yr":1986,"x":158,"h":-5.6},{"yr":1986,"x":178,"h":-7.4},{"yr":1986,"x":198,"h":-9.3},{"yr":1986,"x":215,"h":-10.6},{"yr":1986,"x":233,"h":-12.4},{"yr":1986,"x":250,"h":-14.2},{"yr":1986,"x":266,"h":-16.6},{"yr":1986,"x":282,"h":-18.6},{"yr":1986,"x":300,"h":-20.4},{"yr":1986,"x":318,"h":-21.3},{"yr":1986,"x":335,"h":-21.8},{"yr":1986,"x":350,"h":-21.3},{"yr":1986,"x":375,"h":-21.2},{"yr":1986,"x":400,"h":-20.4},{"yr":1986,"x":434,"h":-18.8},{"yr":1986,"x":468,"h":-15.4},{"yr":1986,"x":502,"h":-12.8},{"yr":1986,"x":536,"h":-11.1},{"yr":1986,"x":570,"h":-8.8},{"yr":1986,"x":600,"h":-5.9},{"yr":1986,"x":625,"h":-5.8},{"yr":1986,"x":645,"h":-5.6},{"yr":1986,"x":673,"h":-5.9},{"yr":1986,"x":700,"h":-6.3},{"yr":1986,"x":741,"h":-6.8},{"yr":1986,"x":800,"h":-7.2},
{"yr":1987,"x":-300,"h":4.8},{"yr":1987,"x":-292,"h":8.2},{"yr":1987,"x":-285,"h":10.2},{"yr":1987,"x":-278,"h":9.9},{"yr":1987,"x":-265,"h":7.6},{"yr":1987,"x":-252,"h":5.3},{"yr":1987,"x":-244,"h":5.1},{"yr":1987,"x":-238,"h":6.4},{"yr":1987,"x":-232,"h":7.7},{"yr":1987,"x":-226,"h":7.2},{"yr":1987,"x":-215,"h":6.2},{"yr":1987,"x":-200,"h":5.6},{"yr":1987,"x":-188,"h":5.1},{"yr":1987,"x":-178,"h":4.3},{"yr":1987,"x":-163,"h":3.3},{"yr":1987,"x":-148,"h":2.6},{"yr":1987,"x":-120,"h":1.6},{"yr":1987,"x":-90,"h":0.7},{"yr":1987,"x":-60,"h":-0.2},{"yr":1987,"x":-30,"h":-1.2},{"yr":1987,"x":0,"h":-2.2},{"yr":1987,"x":30,"h":-3.1},{"yr":1987,"x":60,"h":-3.9},{"yr":1987,"x":90,"h":-4.2},{"yr":1987,"x":112,"h":-3.7},{"yr":1987,"x":125,"h":-3.7},{"yr":1987,"x":140,"h":-4.1},{"yr":1987,"x":160,"h":-5.2},{"yr":1987,"x":180,"h":-7.0},{"yr":1987,"x":200,"h":-8.8},{"yr":1987,"x":215,"h":-10.0},{"yr":1987,"x":235,"h":-11.9},{"yr":1987,"x":252,"h":-13.6},{"yr":1987,"x":268,"h":-16.0},{"yr":1987,"x":283,"h":-18.0},{"yr":1987,"x":300,"h":-20.0},{"yr":1987,"x":318,"h":-21.4},{"yr":1987,"x":332,"h":-22.2},{"yr":1987,"x":345,"h":-21.6},{"yr":1987,"x":370,"h":-21.1},{"yr":1987,"x":400,"h":-20.2},{"yr":1987,"x":430,"h":-18.6},{"yr":1987,"x":460,"h":-15.8},{"yr":1987,"x":490,"h":-13.2},{"yr":1987,"x":520,"h":-11.6},{"yr":1987,"x":550,"h":-9.6},{"yr":1987,"x":575,"h":-7.8},{"yr":1987,"x":600,"h":-6.4},{"yr":1987,"x":620,"h":-6.9},{"yr":1987,"x":640,"h":-6.6}
],
"bl":[
{"yr":1987,"x":-300,"h":4.8},{"yr":1987,"x":-285,"h":10.1},{"yr":1987,"x":-276,"h":9.9},{"yr":1987,"x":-264,"h":8.3},{"yr":1987,"x":-252,"h":6.0},{"yr":1987,"x":-243,"h":5.1},{"yr":1987,"x":-236,"h":6.4},{"yr":1987,"x":-230,"h":7.6},{"yr":1987,"x":-220,"h":7.6},{"yr":1987,"x":-208,"h":7.2},{"yr":1987,"x":-196,"h":6.1},{"yr":1987,"x":-182,"h":5.6},{"yr":1987,"x":-168,"h":4.8},{"yr":1987,"x":-155,"h":3.2},{"yr":1987,"x":-125,"h":1.9},{"yr":1987,"x":-90,"h":0.7},{"yr":1987,"x":-50,"h":-0.8},{"yr":1987,"x":-10,"h":-2.3},{"yr":1987,"x":30,"h":-3.4},{"yr":1987,"x":70,"h":-3.9},{"yr":1987,"x":105,"h":-3.9},{"yr":1987,"x":125,"h":-3.8},{"yr":1987,"x":150,"h":-5.3},{"yr":1987,"x":190,"h":-9.5},{"yr":1987,"x":230,"h":-13.3},{"yr":1987,"x":270,"h":-17.0},{"yr":1987,"x":305,"h":-19.9},{"yr":1987,"x":330,"h":-21.1},{"yr":1987,"x":350,"h":-21.6},{"yr":1987,"x":380,"h":-21.3},{"yr":1987,"x":410,"h":-21.0},{"yr":1987,"x":440,"h":-20.2},{"yr":1987,"x":465,"h":-18.0},{"yr":1987,"x":490,"h":-15.6},{"yr":1987,"x":515,"h":-13.2},{"yr":1987,"x":540,"h":-11.4},{"yr":1987,"x":565,"h":-9.6},{"yr":1987,"x":590,"h":-7.6},{"yr":1987,"x":620,"h":-6.0},{"yr":1987,"x":660,"h":-5.4},{"yr":1987,"x":700,"h":-5.6},{"yr":1987,"x":750,"h":-6.2},{"yr":1987,"x":800,"h":-6.0},
{"yr":1988,"x":-300,"h":4.8},{"yr":1988,"x":-285,"h":10.2},{"yr":1988,"x":-276,"h":10.0},{"yr":1988,"x":-264,"h":8.2},{"yr":1988,"x":-252,"h":5.9},{"yr":1988,"x":-243,"h":5.1},{"yr":1988,"x":-236,"h":6.6},{"yr":1988,"x":-230,"h":7.8},{"yr":1988,"x":-220,"h":7.7},{"yr":1988,"x":-208,"h":7.4},{"yr":1988,"x":-196,"h":6.3},{"yr":1988,"x":-182,"h":5.6},{"yr":1988,"x":-168,"h":5.0},{"yr":1988,"x":-155,"h":3.3},{"yr":1988,"x":-125,"h":2.0},{"yr":1988,"x":-90,"h":0.8},{"yr":1988,"x":-50,"h":-0.7},{"yr":1988,"x":-10,"h":-2.2},{"yr":1988,"x":30,"h":-3.2},{"yr":1988,"x":70,"h":-3.8},{"yr":1988,"x":105,"h":-3.9},{"yr":1988,"x":125,"h":-3.9},{"yr":1988,"x":150,"h":-5.4},{"yr":1988,"x":190,"h":-9.6},{"yr":1988,"x":230,"h":-13.4},{"yr":1988,"x":270,"h":-17.1},{"yr":1988,"x":305,"h":-19.9},{"yr":1988,"x":330,"h":-21.0},{"yr":1988,"x":350,"h":-21.4},{"yr":1988,"x":380,"h":-21.3},{"yr":1988,"x":410,"h":-20.9},{"yr":1988,"x":440,"h":-19.8},{"yr":1988,"x":465,"h":-17.6},{"yr":1988,"x":490,"h":-15.0},{"yr":1988,"x":515,"h":-12.6},{"yr":1988,"x":540,"h":-10.6},{"yr":1988,"x":565,"h":-8.8},{"yr":1988,"x":590,"h":-6.8},{"yr":1988,"x":620,"h":-5.6},{"yr":1988,"x":660,"h":-5.9},{"yr":1988,"x":700,"h":-5.5},{"yr":1988,"x":750,"h":-6.4},{"yr":1988,"x":800,"h":-6.8},
{"yr":1989,"x":-300,"h":4.8},{"yr":1989,"x":-285,"h":10.2},{"yr":1989,"x":-276,"h":10.0},{"yr":1989,"x":-264,"h":8.2},{"yr":1989,"x":-252,"h":5.9},{"yr":1989,"x":-243,"h":5.1},{"yr":1989,"x":-236,"h":6.5},{"yr":1989,"x":-230,"h":7.7},{"yr":1989,"x":-220,"h":7.6},{"yr":1989,"x":-208,"h":7.3},{"yr":1989,"x":-196,"h":6.0},{"yr":1989,"x":-182,"h":5.5},{"yr":1989,"x":-168,"h":4.6},{"yr":1989,"x":-155,"h":3.0},{"yr":1989,"x":-125,"h":1.8},{"yr":1989,"x":-90,"h":0.6},{"yr":1989,"x":-50,"h":-0.8},{"yr":1989,"x":-10,"h":-2.3},{"yr":1989,"x":30,"h":-3.3},{"yr":1989,"x":70,"h":-3.9},{"yr":1989,"x":105,"h":-3.9},{"yr":1989,"x":125,"h":-3.9},{"yr":1989,"x":150,"h":-5.4},{"yr":1989,"x":190,"h":-9.6},{"yr":1989,"x":230,"h":-13.4},{"yr":1989,"x":270,"h":-17.0},{"yr":1989,"x":305,"h":-19.8},{"yr":1989,"x":330,"h":-21.0},{"yr":1989,"x":350,"h":-21.5},{"yr":1989,"x":380,"h":-21.2},{"yr":1989,"x":410,"h":-20.8},{"yr":1989,"x":440,"h":-19.6},{"yr":1989,"x":465,"h":-17.4},{"yr":1989,"x":490,"h":-14.8},{"yr":1989,"x":515,"h":-12.4},{"yr":1989,"x":540,"h":-10.8},{"yr":1989,"x":565,"h":-9.4},{"yr":1989,"x":590,"h":-7.1},{"yr":1989,"x":620,"h":-6.1},{"yr":1989,"x":660,"h":-6.5},{"yr":1989,"x":700,"h":-6.0},{"yr":1989,"x":750,"h":-6.5},{"yr":1989,"x":800,"h":-7.2},
{"yr":1990,"x":-300,"h":4.8},{"yr":1990,"x":-285,"h":10.2},{"yr":1990,"x":-276,"h":10.0},{"yr":1990,"x":-264,"h":8.1},{"yr":1990,"x":-252,"h":5.8},{"yr":1990,"x":-243,"h":5.1},{"yr":1990,"x":-236,"h":6.4},{"yr":1990,"x":-230,"h":7.6},{"yr":1990,"x":-220,"h":7.5},{"yr":1990,"x":-208,"h":7.2},{"yr":1990,"x":-196,"h":5.8},{"yr":1990,"x":-182,"h":5.4},{"yr":1990,"x":-168,"h":4.4},{"yr":1990,"x":-155,"h":2.9},{"yr":1990,"x":-125,"h":1.7},{"yr":1990,"x":-90,"h":0.5},{"yr":1990,"x":-50,"h":-0.9},{"yr":1990,"x":-10,"h":-2.4},{"yr":1990,"x":30,"h":-3.4},{"yr":1990,"x":70,"h":-3.9},{"yr":1990,"x":105,"h":-4.0},{"yr":1990,"x":125,"h":-3.9},{"yr":1990,"x":150,"h":-5.5},{"yr":1990,"x":190,"h":-9.7},{"yr":1990,"x":230,"h":-13.5},{"yr":1990,"x":270,"h":-17.1},{"yr":1990,"x":305,"h":-19.9},{"yr":1990,"x":330,"h":-21.1},{"yr":1990,"x":350,"h":-21.4},{"yr":1990,"x":380,"h":-21.2},{"yr":1990,"x":410,"h":-20.6},{"yr":1990,"x":440,"h":-19.2},{"yr":1990,"x":465,"h":-16.9},{"yr":1990,"x":490,"h":-14.2},{"yr":1990,"x":515,"h":-11.8},{"yr":1990,"x":540,"h":-9.6},{"yr":1990,"x":565,"h":-7.6},{"yr":1990,"x":590,"h":-6.0},{"yr":1990,"x":620,"h":-5.2},{"yr":1990,"x":660,"h":-5.6},{"yr":1990,"x":700,"h":-6.2},{"yr":1990,"x":750,"h":-6.6},{"yr":1990,"x":800,"h":-7.0},
{"yr":1991,"x":-300,"h":4.8},{"yr":1991,"x":-285,"h":10.2},{"yr":1991,"x":-276,"h":10.0},{"yr":1991,"x":-264,"h":8.2},{"yr":1991,"x":-252,"h":5.9},{"yr":1991,"x":-243,"h":5.1},{"yr":1991,"x":-236,"h":6.5},{"yr":1991,"x":-230,"h":7.8},{"yr":1991,"x":-220,"h":7.6},{"yr":1991,"x":-208,"h":7.4},{"yr":1991,"x":-196,"h":6.2},{"yr":1991,"x":-182,"h":5.5},{"yr":1991,"x":-168,"h":4.6},{"yr":1991,"x":-155,"h":3.1},{"yr":1991,"x":-125,"h":1.8},{"yr":1991,"x":-90,"h":0.6},{"yr":1991,"x":-50,"h":-0.8},{"yr":1991,"x":-10,"h":-2.3},{"yr":1991,"x":30,"h":-3.3},{"yr":1991,"x":70,"h":-3.9},{"yr":1991,"x":105,"h":-4.0},{"yr":1991,"x":125,"h":-3.9},{"yr":1991,"x":150,"h":-5.4},{"yr":1991,"x":190,"h":-9.6},{"yr":1991,"x":230,"h":-13.4},{"yr":1991,"x":270,"h":-17.1},{"yr":1991,"x":305,"h":-20.0},{"yr":1991,"x":330,"h":-21.2},{"yr":1991,"x":350,"h":-21.6},{"yr":1991,"x":380,"h":-21.4},{"yr":1991,"x":410,"h":-21.0},{"yr":1991,"x":440,"h":-19.8},{"yr":1991,"x":465,"h":-17.8},{"yr":1991,"x":490,"h":-15.2},{"yr":1991,"x":515,"h":-12.8},{"yr":1991,"x":540,"h":-11.0},{"yr":1991,"x":565,"h":-9.0},{"yr":1991,"x":590,"h":-7.0},{"yr":1991,"x":620,"h":-6.2},{"yr":1991,"x":660,"h":-6.4},{"yr":1991,"x":700,"h":-6.6},{"yr":1991,"x":750,"h":-7.0},{"yr":1991,"x":800,"h":-7.4},
{"yr":1992,"x":-300,"h":4.8},{"yr":1992,"x":-285,"h":10.3},{"yr":1992,"x":-276,"h":10.0},{"yr":1992,"x":-264,"h":8.1},{"yr":1992,"x":-252,"h":5.9},{"yr":1992,"x":-243,"h":5.2},{"yr":1992,"x":-236,"h":6.8},{"yr":1992,"x":-230,"h":8.2},{"yr":1992,"x":-220,"h":7.8},{"yr":1992,"x":-208,"h":6.4},{"yr":1992,"x":-196,"h":4.5},{"yr":1992,"x":-182,"h":3.8},{"yr":1992,"x":-168,"h":3.2},{"yr":1992,"x":-155,"h":2.5},{"yr":1992,"x":-125,"h":1.6},{"yr":1992,"x":-90,"h":0.5},{"yr":1992,"x":-50,"h":-0.9},{"yr":1992,"x":-10,"h":-2.3},{"yr":1992,"x":30,"h":-3.3},{"yr":1992,"x":70,"h":-3.9},{"yr":1992,"x":105,"h":-4.0},{"yr":1992,"x":125,"h":-3.9},{"yr":1992,"x":150,"h":-5.5},{"yr":1992,"x":190,"h":-9.7},{"yr":1992,"x":230,"h":-13.5},{"yr":1992,"x":270,"h":-17.1},{"yr":1992,"x":305,"h":-19.9},{"yr":1992,"x":330,"h":-21.0},{"yr":1992,"x":350,"h":-21.3},{"yr":1992,"x":380,"h":-21.0},{"yr":1992,"x":410,"h":-20.2},{"yr":1992,"x":440,"h":-18.4},{"yr":1992,"x":465,"h":-16.0},{"yr":1992,"x":490,"h":-13.8},{"yr":1992,"x":515,"h":-11.4},{"yr":1992,"x":540,"h":-9.0},{"yr":1992,"x":565,"h":-6.8},{"yr":1992,"x":590,"h":-5.4},{"yr":1992,"x":620,"h":-5.2},{"yr":1992,"x":660,"h":-5.9},{"yr":1992,"x":700,"h":-6.3},{"yr":1992,"x":750,"h":-6.8},{"yr":1992,"x":800,"h":-7.1},
{"yr":1993,"x":-300,"h":4.8},{"yr":1993,"x":-285,"h":10.3},{"yr":1993,"x":-276,"h":10.0},{"yr":1993,"x":-264,"h":8.0},{"yr":1993,"x":-252,"h":5.8},{"yr":1993,"x":-243,"h":5.2},{"yr":1993,"x":-236,"h":7.0},{"yr":1993,"x":-230,"h":8.6},{"yr":1993,"x":-220,"h":7.9},{"yr":1993,"x":-208,"h":6.0},{"yr":1993,"x":-196,"h":4.0},{"yr":1993,"x":-182,"h":3.2},{"yr":1993,"x":-168,"h":2.8},{"yr":1993,"x":-155,"h":2.2},{"yr":1993,"x":-125,"h":1.5},{"yr":1993,"x":-90,"h":0.4},{"yr":1993,"x":-50,"h":-1.0},{"yr":1993,"x":-10,"h":-2.4},{"yr":1993,"x":30,"h":-3.3},{"yr":1993,"x":70,"h":-3.9},{"yr":1993,"x":105,"h":-4.0},{"yr":1993,"x":125,"h":-3.8},{"yr":1993,"x":150,"h":-5.5},{"yr":1993,"x":190,"h":-9.7},{"yr":1993,"x":230,"h":-13.5},{"yr":1993,"x":270,"h":-17.1},{"yr":1993,"x":305,"h":-19.9},{"yr":1993,"x":330,"h":-21.0},{"yr":1993,"x":350,"h":-21.2},{"yr":1993,"x":380,"h":-20.8},{"yr":1993,"x":410,"h":-19.8},{"yr":1993,"x":440,"h":-17.8},{"yr":1993,"x":465,"h":-15.4},{"yr":1993,"x":490,"h":-13.3},{"yr":1993,"x":515,"h":-10.8},{"yr":1993,"x":540,"h":-8.0},{"yr":1993,"x":565,"h":-5.8},{"yr":1993,"x":590,"h":-5.2},{"yr":1993,"x":620,"h":-5.2},{"yr":1993,"x":660,"h":-5.6},{"yr":1993,"x":700,"h":-6.1},{"yr":1993,"x":750,"h":-6.6},{"yr":1993,"x":800,"h":-7.2},
{"yr":1994,"x":-300,"h":4.8},{"yr":1994,"x":-285,"h":10.3},{"yr":1994,"x":-276,"h":10.0},{"yr":1994,"x":-264,"h":8.0},{"yr":1994,"x":-252,"h":5.8},{"yr":1994,"x":-243,"h":5.3},{"yr":1994,"x":-236,"h":7.1},{"yr":1994,"x":-230,"h":8.8},{"yr":1994,"x":-220,"h":8.0},{"yr":1994,"x":-208,"h":5.8},{"yr":1994,"x":-196,"h":3.6},{"yr":1994,"x":-182,"h":2.8},{"yr":1994,"x":-168,"h":2.4},{"yr":1994,"x":-155,"h":2.0},{"yr":1994,"x":-125,"h":1.4},{"yr":1994,"x":-90,"h":0.3},{"yr":1994,"x":-50,"h":-1.0},{"yr":1994,"x":-10,"h":-2.4},{"yr":1994,"x":30,"h":-3.3},{"yr":1994,"x":70,"h":-3.9},{"yr":1994,"x":105,"h":-4.0},{"yr":1994,"x":125,"h":-3.8},{"yr":1994,"x":150,"h":-5.6},{"yr":1994,"x":190,"h":-9.8},{"yr":1994,"x":230,"h":-13.6},{"yr":1994,"x":270,"h":-17.2},{"yr":1994,"x":305,"h":-20.0},{"yr":1994,"x":330,"h":-20.9},{"yr":1994,"x":350,"h":-21.1},{"yr":1994,"x":380,"h":-20.6},{"yr":1994,"x":410,"h":-19.4},{"yr":1994,"x":440,"h":-17.2},{"yr":1994,"x":465,"h":-14.8},{"yr":1994,"x":490,"h":-13.0},{"yr":1994,"x":515,"h":-10.4},{"yr":1994,"x":540,"h":-7.4},{"yr":1994,"x":565,"h":-5.4},{"yr":1994,"x":590,"h":-5.1},{"yr":1994,"x":620,"h":-5.4},{"yr":1994,"x":660,"h":-5.8},{"yr":1994,"x":700,"h":-6.1},{"yr":1994,"x":750,"h":-6.6},{"yr":1994,"x":800,"h":-7.3},
{"yr":1995,"x":-300,"h":4.8},{"yr":1995,"x":-285,"h":10.3},{"yr":1995,"x":-276,"h":10.0},{"yr":1995,"x":-264,"h":8.0},{"yr":1995,"x":-252,"h":5.8},{"yr":1995,"x":-243,"h":5.3},{"yr":1995,"x":-236,"h":7.4},{"yr":1995,"x":-230,"h":9.5},{"yr":1995,"x":-220,"h":8.0},{"yr":1995,"x":-208,"h":5.4},{"yr":1995,"x":-196,"h":3.2},{"yr":1995,"x":-182,"h":2.5},{"yr":1995,"x":-168,"h":2.2},{"yr":1995,"x":-155,"h":1.9},{"yr":1995,"x":-125,"h":1.3},{"yr":1995,"x":-90,"h":0.3},{"yr":1995,"x":-50,"h":-1.0},{"yr":1995,"x":-10,"h":-2.4},{"yr":1995,"x":30,"h":-3.3},{"yr":1995,"x":70,"h":-3.9},{"yr":1995,"x":105,"h":-4.0},{"yr":1995,"x":125,"h":-3.8},{"yr":1995,"x":150,"h":-5.6},{"yr":1995,"x":190,"h":-9.8},{"yr":1995,"x":230,"h":-13.6},{"yr":1995,"x":270,"h":-17.2},{"yr":1995,"x":305,"h":-20.0},{"yr":1995,"x":330,"h":-20.9},{"yr":1995,"x":350,"h":-21.0},{"yr":1995,"x":380,"h":-20.5},{"yr":1995,"x":410,"h":-19.1},{"yr":1995,"x":440,"h":-16.8},{"yr":1995,"x":465,"h":-14.4},{"yr":1995,"x":490,"h":-12.9},{"yr":1995,"x":515,"h":-10.0},{"yr":1995,"x":540,"h":-6.8},{"yr":1995,"x":565,"h":-4.9},{"yr":1995,"x":590,"h":-5.0},{"yr":1995,"x":620,"h":-5.3},{"yr":1995,"x":660,"h":-5.7},{"yr":1995,"x":700,"h":-6.0},{"yr":1995,"x":750,"h":-6.5},{"yr":1995,"x":800,"h":-7.3},
{"yr":1996,"x":-300,"h":4.8},{"yr":1996,"x":-285,"h":10.4},{"yr":1996,"x":-276,"h":10.1},{"yr":1996,"x":-264,"h":8.1},{"yr":1996,"x":-252,"h":5.9},{"yr":1996,"x":-243,"h":5.4},{"yr":1996,"x":-236,"h":7.2},{"yr":1996,"x":-230,"h":9.0},{"yr":1996,"x":-220,"h":7.8},{"yr":1996,"x":-208,"h":5.2},{"yr":1996,"x":-196,"h":3.0},{"yr":1996,"x":-182,"h":2.4},{"yr":1996,"x":-168,"h":2.1},{"yr":1996,"x":-155,"h":1.8},{"yr":1996,"x":-125,"h":1.2},{"yr":1996,"x":-90,"h":0.2},{"yr":1996,"x":-50,"h":-1.1},{"yr":1996,"x":-10,"h":-2.5},{"yr":1996,"x":30,"h":-3.4},{"yr":1996,"x":70,"h":-3.9},{"yr":1996,"x":105,"h":-4.0},{"yr":1996,"x":125,"h":-3.8},{"yr":1996,"x":150,"h":-5.6},{"yr":1996,"x":190,"h":-9.8},{"yr":1996,"x":230,"h":-13.6},{"yr":1996,"x":270,"h":-17.2},{"yr":1996,"x":305,"h":-20.0},{"yr":1996,"x":330,"h":-20.8},{"yr":1996,"x":350,"h":-20.9},{"yr":1996,"x":380,"h":-20.4},{"yr":1996,"x":410,"h":-19.0},{"yr":1996,"x":440,"h":-16.6},{"yr":1996,"x":465,"h":-14.2},{"yr":1996,"x":490,"h":-12.6},{"yr":1996,"x":515,"h":-9.6},{"yr":1996,"x":540,"h":-6.4},{"yr":1996,"x":565,"h":-4.8},{"yr":1996,"x":590,"h":-4.9},{"yr":1996,"x":620,"h":-5.2},{"yr":1996,"x":660,"h":-5.6},{"yr":1996,"x":700,"h":-6.0},{"yr":1996,"x":750,"h":-6.4},{"yr":1996,"x":800,"h":-7.2},
{"yr":1997,"x":-300,"h":4.6},{"yr":1997,"x":-285,"h":10.3},{"yr":1997,"x":-276,"h":10.0},{"yr":1997,"x":-264,"h":8.0},{"yr":1997,"x":-252,"h":5.8},{"yr":1997,"x":-243,"h":5.3},{"yr":1997,"x":-236,"h":7.5},{"yr":1997,"x":-230,"h":9.6},{"yr":1997,"x":-222,"h":8.8},{"yr":1997,"x":-214,"h":6.6},{"yr":1997,"x":-205,"h":4.8},{"yr":1997,"x":-195,"h":4.0},{"yr":1997,"x":-182,"h":3.4},{"yr":1997,"x":-165,"h":3.2},{"yr":1997,"x":-140,"h":3.2},{"yr":1997,"x":-115,"h":3.2},{"yr":1997,"x":-95,"h":2.6},{"yr":1997,"x":-75,"h":1.5},{"yr":1997,"x":-55,"h":0.4},{"yr":1997,"x":-30,"h":-0.4},{"yr":1997,"x":0,"h":-1.5},{"yr":1997,"x":30,"h":-2.4},{"yr":1997,"x":60,"h":-3.0},{"yr":1997,"x":90,"h":-3.2},{"yr":1997,"x":110,"h":-3.6},{"yr":1997,"x":130,"h":-4.4},{"yr":1997,"x":150,"h":-5.7},{"yr":1997,"x":190,"h":-9.8},{"yr":1997,"x":230,"h":-13.6},{"yr":1997,"x":270,"h":-17.2},{"yr":1997,"x":305,"h":-20.1},{"yr":1997,"x":330,"h":-20.9},{"yr":1997,"x":350,"h":-21.0},{"yr":1997,"x":380,"h":-20.4},{"yr":1997,"x":410,"h":-19.0},{"yr":1997,"x":440,"h":-16.6},{"yr":1997,"x":465,"h":-14.2},{"yr":1997,"x":490,"h":-12.8},{"yr":1997,"x":515,"h":-9.8},{"yr":1997,"x":540,"h":-6.6},{"yr":1997,"x":565,"h":-4.8},{"yr":1997,"x":590,"h":-5.0},{"yr":1997,"x":620,"h":-5.3},{"yr":1997,"x":660,"h":-5.7},{"yr":1997,"x":700,"h":-6.0},{"yr":1997,"x":750,"h":-6.5},{"yr":1997,"x":800,"h":-7.3}
],
"br":[
{"yr":1997,"x":-300,"h":4.6},{"yr":1997,"x":-285,"h":10.3},{"yr":1997,"x":-276,"h":10.0},{"yr":1997,"x":-264,"h":8.0},{"yr":1997,"x":-252,"h":5.8},{"yr":1997,"x":-243,"h":5.3},{"yr":1997,"x":-236,"h":7.5},{"yr":1997,"x":-230,"h":9.6},{"yr":1997,"x":-222,"h":8.8},{"yr":1997,"x":-214,"h":6.6},{"yr":1997,"x":-205,"h":4.8},{"yr":1997,"x":-195,"h":4.0},{"yr":1997,"x":-182,"h":3.4},{"yr":1997,"x":-165,"h":3.2},{"yr":1997,"x":-140,"h":3.2},{"yr":1997,"x":-115,"h":3.2},{"yr":1997,"x":-95,"h":2.6},{"yr":1997,"x":-75,"h":1.5},{"yr":1997,"x":-55,"h":0.4},{"yr":1997,"x":-30,"h":-0.4},{"yr":1997,"x":0,"h":-1.5},{"yr":1997,"x":30,"h":-2.4},{"yr":1997,"x":60,"h":-3.0},{"yr":1997,"x":90,"h":-3.2},{"yr":1997,"x":110,"h":-3.6},{"yr":1997,"x":130,"h":-4.4},{"yr":1997,"x":150,"h":-5.7},{"yr":1997,"x":190,"h":-9.8},{"yr":1997,"x":230,"h":-13.6},{"yr":1997,"x":270,"h":-17.2},{"yr":1997,"x":305,"h":-20.1},{"yr":1997,"x":330,"h":-20.9},{"yr":1997,"x":350,"h":-21.0},{"yr":1997,"x":380,"h":-20.4},{"yr":1997,"x":410,"h":-19.0},{"yr":1997,"x":440,"h":-16.6},{"yr":1997,"x":465,"h":-14.2},{"yr":1997,"x":490,"h":-12.8},{"yr":1997,"x":515,"h":-9.8},{"yr":1997,"x":540,"h":-6.6},{"yr":1997,"x":565,"h":-4.8},{"yr":1997,"x":590,"h":-5.0},{"yr":1997,"x":620,"h":-5.3},{"yr":1997,"x":660,"h":-5.7},{"yr":1997,"x":700,"h":-6.0},{"yr":1997,"x":750,"h":-6.5},{"yr":1997,"x":800,"h":-7.3},
{"yr":1998,"x":-300,"h":4.8},{"yr":1998,"x":-289,"h":10.2},{"yr":1998,"x":-275,"h":9.8},{"yr":1998,"x":-260,"h":8.8},{"yr":1998,"x":-250,"h":6.6},{"yr":1998,"x":-240,"h":7.2},{"yr":1998,"x":-229,"h":9.5},{"yr":1998,"x":-220,"h":9.1},{"yr":1998,"x":-210,"h":6.4},{"yr":1998,"x":-200,"h":4.4},{"yr":1998,"x":-186,"h":3.8},{"yr":1998,"x":-172,"h":3.3},{"yr":1998,"x":-158,"h":3.0},{"yr":1998,"x":-140,"h":2.8},{"yr":1998,"x":-110,"h":2.4},{"yr":1998,"x":-60,"h":1.2},{"yr":1998,"x":-10,"h":-1.1},{"yr":1998,"x":40,"h":-2.7},{"yr":1998,"x":93,"h":-3.7},{"yr":1998,"x":130,"h":-4.4},{"yr":1998,"x":170,"h":-7.0},{"yr":1998,"x":210,"h":-10.6},{"yr":1998,"x":250,"h":-14.8},{"yr":1998,"x":290,"h":-18.6},{"yr":1998,"x":320,"h":-20.1},{"yr":1998,"x":350,"h":-20.6},{"yr":1998,"x":385,"h":-20.2},{"yr":1998,"x":420,"h":-17.3},{"yr":1998,"x":460,"h":-13.8},{"yr":1998,"x":500,"h":-9.6},{"yr":1998,"x":525,"h":-6.3},{"yr":1998,"x":550,"h":-5.0},{"yr":1998,"x":580,"h":-4.2},{"yr":1998,"x":620,"h":-4.9},{"yr":1998,"x":670,"h":-5.4},{"yr":1998,"x":720,"h":-5.9},{"yr":1998,"x":770,"h":-6.3},{"yr":1998,"x":800,"h":-6.9},
{"yr":1999,"x":-300,"h":5.0},{"yr":1999,"x":-289,"h":10.3},{"yr":1999,"x":-275,"h":9.8},{"yr":1999,"x":-260,"h":8.8},{"yr":1999,"x":-250,"h":6.7},{"yr":1999,"x":-240,"h":7.3},{"yr":1999,"x":-229,"h":9.7},{"yr":1999,"x":-220,"h":9.3},{"yr":1999,"x":-210,"h":6.5},{"yr":1999,"x":-200,"h":4.5},{"yr":1999,"x":-186,"h":3.9},{"yr":1999,"x":-172,"h":3.4},{"yr":1999,"x":-158,"h":3.1},{"yr":1999,"x":-140,"h":2.9},{"yr":1999,"x":-110,"h":2.5},{"yr":1999,"x":-60,"h":1.4},{"yr":1999,"x":-10,"h":-0.9},{"yr":1999,"x":40,"h":-2.5},{"yr":1999,"x":93,"h":-3.6},{"yr":1999,"x":130,"h":-4.3},{"yr":1999,"x":170,"h":-7.0},{"yr":1999,"x":210,"h":-10.6},{"yr":1999,"x":250,"h":-14.8},{"yr":1999,"x":290,"h":-18.6},{"yr":1999,"x":320,"h":-20.0},{"yr":1999,"x":350,"h":-20.4},{"yr":1999,"x":385,"h":-20.0},{"yr":1999,"x":420,"h":-17.4},{"yr":1999,"x":460,"h":-13.9},{"yr":1999,"x":500,"h":-9.8},{"yr":1999,"x":525,"h":-6.8},{"yr":1999,"x":550,"h":-5.4},{"yr":1999,"x":580,"h":-4.5},{"yr":1999,"x":620,"h":-5.0},{"yr":1999,"x":670,"h":-5.4},{"yr":1999,"x":720,"h":-5.9},{"yr":1999,"x":770,"h":-6.4},{"yr":1999,"x":800,"h":-7.0},
{"yr":2000,"x":-300,"h":5.1},{"yr":2000,"x":-289,"h":10.3},{"yr":2000,"x":-275,"h":9.8},{"yr":2000,"x":-260,"h":8.9},{"yr":2000,"x":-250,"h":6.7},{"yr":2000,"x":-240,"h":7.4},{"yr":2000,"x":-229,"h":9.8},{"yr":2000,"x":-220,"h":9.3},{"yr":2000,"x":-210,"h":6.5},{"yr":2000,"x":-200,"h":4.6},{"yr":2000,"x":-186,"h":4.0},{"yr":2000,"x":-172,"h":3.5},{"yr":2000,"x":-158,"h":3.2},{"yr":2000,"x":-140,"h":2.9},{"yr":2000,"x":-110,"h":2.6},{"yr":2000,"x":-60,"h":1.5},{"yr":2000,"x":-10,"h":-0.6},{"yr":2000,"x":40,"h":-2.3},{"yr":2000,"x":93,"h":-3.4},{"yr":2000,"x":130,"h":-4.3},{"yr":2000,"x":170,"h":-7.0},{"yr":2000,"x":210,"h":-10.7},{"yr":2000,"x":250,"h":-14.8},{"yr":2000,"x":290,"h":-18.5},{"yr":2000,"x":320,"h":-19.8},{"yr":2000,"x":350,"h":-20.2},{"yr":2000,"x":385,"h":-19.7},{"yr":2000,"x":420,"h":-17.1},{"yr":2000,"x":460,"h":-13.7},{"yr":2000,"x":500,"h":-9.9},{"yr":2000,"x":525,"h":-7.1},{"yr":2000,"x":550,"h":-5.8},{"yr":2000,"x":580,"h":-4.8},{"yr":2000,"x":620,"h":-5.2},{"yr":2000,"x":670,"h":-5.5},{"yr":2000,"x":720,"h":-6.0},{"yr":2000,"x":770,"h":-6.4},{"yr":2000,"x":800,"h":-7.0},
{"yr":2001,"x":-300,"h":5.2},{"yr":2001,"x":-289,"h":10.4},{"yr":2001,"x":-275,"h":9.8},{"yr":2001,"x":-260,"h":8.9},{"yr":2001,"x":-250,"h":6.8},{"yr":2001,"x":-240,"h":7.4},{"yr":2001,"x":-229,"h":9.9},{"yr":2001,"x":-220,"h":9.4},{"yr":2001,"x":-210,"h":6.6},{"yr":2001,"x":-200,"h":4.6},{"yr":2001,"x":-186,"h":4.0},{"yr":2001,"x":-172,"h":3.5},{"yr":2001,"x":-158,"h":3.2},{"yr":2001,"x":-140,"h":2.9},{"yr":2001,"x":-110,"h":2.6},{"yr":2001,"x":-60,"h":1.6},{"yr":2001,"x":-10,"h":-0.5},{"yr":2001,"x":40,"h":-2.1},{"yr":2001,"x":93,"h":-3.3},{"yr":2001,"x":130,"h":-4.2},{"yr":2001,"x":170,"h":-7.0},{"yr":2001,"x":210,"h":-10.7},{"yr":2001,"x":250,"h":-14.8},{"yr":2001,"x":290,"h":-18.5},{"yr":2001,"x":320,"h":-19.8},{"yr":2001,"x":350,"h":-20.1},{"yr":2001,"x":385,"h":-19.5},{"yr":2001,"x":420,"h":-17.0},{"yr":2001,"x":460,"h":-13.6},{"yr":2001,"x":500,"h":-10.0},{"yr":2001,"x":525,"h":-7.4},{"yr":2001,"x":550,"h":-6.1},{"yr":2001,"x":580,"h":-5.1},{"yr":2001,"x":620,"h":-5.3},{"yr":2001,"x":670,"h":-5.6},{"yr":2001,"x":720,"h":-6.1},{"yr":2001,"x":770,"h":-6.5},{"yr":2001,"x":800,"h":-7.1},
{"yr":2002,"x":-300,"h":5.4},{"yr":2002,"x":-289,"h":10.4},{"yr":2002,"x":-275,"h":9.8},{"yr":2002,"x":-260,"h":8.9},{"yr":2002,"x":-250,"h":6.8},{"yr":2002,"x":-240,"h":7.5},{"yr":2002,"x":-229,"h":9.9},{"yr":2002,"x":-220,"h":9.4},{"yr":2002,"x":-210,"h":6.6},{"yr":2002,"x":-200,"h":4.7},{"yr":2002,"x":-186,"h":4.2},{"yr":2002,"x":-172,"h":3.6},{"yr":2002,"x":-158,"h":3.4},{"yr":2002,"x":-140,"h":3.0},{"yr":2002,"x":-110,"h":2.7},{"yr":2002,"x":-60,"h":1.6},{"yr":2002,"x":-10,"h":-0.3},{"yr":2002,"x":40,"h":-1.9},{"yr":2002,"x":93,"h":-3.2},{"yr":2002,"x":130,"h":-4.2},{"yr":2002,"x":170,"h":-7.0},{"yr":2002,"x":210,"h":-10.7},{"yr":2002,"x":250,"h":-14.8},{"yr":2002,"x":290,"h":-18.5},{"yr":2002,"x":320,"h":-19.7},{"yr":2002,"x":350,"h":-20.0},{"yr":2002,"x":385,"h":-19.4},{"yr":2002,"x":420,"h":-16.9},{"yr":2002,"x":460,"h":-13.5},{"yr":2002,"x":500,"h":-10.0},{"yr":2002,"x":525,"h":-7.6},{"yr":2002,"x":550,"h":-6.3},{"yr":2002,"x":580,"h":-5.3},{"yr":2002,"x":620,"h":-5.4},{"yr":2002,"x":670,"h":-5.7},{"yr":2002,"x":720,"h":-6.1},{"yr":2002,"x":770,"h":-6.5},{"yr":2002,"x":800,"h":-7.1},
{"yr":2003,"x":-300,"h":5.5},{"yr":2003,"x":-289,"h":10.5},{"yr":2003,"x":-275,"h":9.9},{"yr":2003,"x":-260,"h":9.0},{"yr":2003,"x":-250,"h":6.8},{"yr":2003,"x":-240,"h":7.5},{"yr":2003,"x":-229,"h":10.0},{"yr":2003,"x":-220,"h":9.4},{"yr":2003,"x":-210,"h":6.7},{"yr":2003,"x":-200,"h":4.7},{"yr":2003,"x":-186,"h":4.4},{"yr":2003,"x":-172,"h":3.8},{"yr":2003,"x":-158,"h":3.5},{"yr":2003,"x":-140,"h":3.2},{"yr":2003,"x":-110,"h":2.8},{"yr":2003,"x":-60,"h":1.7},{"yr":2003,"x":-10,"h":-0.1},{"yr":2003,"x":40,"h":-1.7},{"yr":2003,"x":93,"h":-3.0},{"yr":2003,"x":130,"h":-4.1},{"yr":2003,"x":170,"h":-7.0},{"yr":2003,"x":210,"h":-10.7},{"yr":2003,"x":250,"h":-14.7},{"yr":2003,"x":290,"h":-18.5},{"yr":2003,"x":320,"h":-19.6},{"yr":2003,"x":350,"h":-19.8},{"yr":2003,"x":385,"h":-19.2},{"yr":2003,"x":420,"h":-16.7},{"yr":2003,"x":460,"h":-13.4},{"yr":2003,"x":500,"h":-10.1},{"yr":2003,"x":525,"h":-7.8},{"yr":2003,"x":550,"h":-6.5},{"yr":2003,"x":580,"h":-5.5},{"yr":2003,"x":620,"h":-5.5},{"yr":2003,"x":670,"h":-5.7},{"yr":2003,"x":720,"h":-6.2},{"yr":2003,"x":770,"h":-6.6},{"yr":2003,"x":800,"h":-7.2},
{"yr":2004,"x":-300,"h":5.6},{"yr":2004,"x":-289,"h":10.5},{"yr":2004,"x":-275,"h":9.9},{"yr":2004,"x":-260,"h":9.0},{"yr":2004,"x":-250,"h":6.9},{"yr":2004,"x":-240,"h":7.6},{"yr":2004,"x":-229,"h":10.1},{"yr":2004,"x":-220,"h":9.5},{"yr":2004,"x":-210,"h":6.7},{"yr":2004,"x":-200,"h":4.8},{"yr":2004,"x":-186,"h":4.6},{"yr":2004,"x":-172,"h":3.9},{"yr":2004,"x":-158,"h":3.7},{"yr":2004,"x":-140,"h":3.3},{"yr":2004,"x":-110,"h":2.8},{"yr":2004,"x":-60,"h":1.8},{"yr":2004,"x":-10,"h":0.1},{"yr":2004,"x":40,"h":-1.6},{"yr":2004,"x":93,"h":-2.9},{"yr":2004,"x":130,"h":-4.0},{"yr":2004,"x":170,"h":-7.0},{"yr":2004,"x":210,"h":-10.7},{"yr":2004,"x":250,"h":-14.7},{"yr":2004,"x":290,"h":-18.5},{"yr":2004,"x":320,"h":-19.6},{"yr":2004,"x":350,"h":-19.7},{"yr":2004,"x":385,"h":-19.0},{"yr":2004,"x":420,"h":-16.6},{"yr":2004,"x":460,"h":-13.4},{"yr":2004,"x":500,"h":-10.1},{"yr":2004,"x":525,"h":-8.0},{"yr":2004,"x":550,"h":-6.7},{"yr":2004,"x":580,"h":-5.7},{"yr":2004,"x":620,"h":-5.6},{"yr":2004,"x":670,"h":-5.8},{"yr":2004,"x":720,"h":-6.2},{"yr":2004,"x":770,"h":-6.6},{"yr":2004,"x":800,"h":-7.2},
{"yr":2005,"x":-300,"h":5.8},{"yr":2005,"x":-289,"h":10.5},{"yr":2005,"x":-275,"h":9.9},{"yr":2005,"x":-260,"h":9.0},{"yr":2005,"x":-250,"h":6.9},{"yr":2005,"x":-240,"h":7.6},{"yr":2005,"x":-229,"h":10.2},{"yr":2005,"x":-220,"h":9.5},{"yr":2005,"x":-210,"h":6.7},{"yr":2005,"x":-200,"h":4.8},{"yr":2005,"x":-186,"h":4.7},{"yr":2005,"x":-172,"h":4.0},{"yr":2005,"x":-158,"h":3.9},{"yr":2005,"x":-140,"h":3.4},{"yr":2005,"x":-110,"h":2.9},{"yr":2005,"x":-60,"h":1.9},{"yr":2005,"x":-10,"h":0.2},{"yr":2005,"x":40,"h":-1.4},{"yr":2005,"x":93,"h":-2.8},{"yr":2005,"x":130,"h":-4.0},{"yr":2005,"x":170,"h":-7.0},{"yr":2005,"x":210,"h":-10.7},{"yr":2005,"x":250,"h":-14.7},{"yr":2005,"x":290,"h":-18.5},{"yr":2005,"x":320,"h":-19.5},{"yr":2005,"x":350,"h":-19.7},{"yr":2005,"x":385,"h":-18.9},{"yr":2005,"x":420,"h":-16.5},{"yr":2005,"x":460,"h":-13.3},{"yr":2005,"x":500,"h":-10.2},{"yr":2005,"x":525,"h":-8.1},{"yr":2005,"x":550,"h":-6.9},{"yr":2005,"x":580,"h":-5.8},{"yr":2005,"x":620,"h":-5.7},{"yr":2005,"x":670,"h":-5.8},{"yr":2005,"x":720,"h":-6.3},{"yr":2005,"x":770,"h":-6.7},{"yr":2005,"x":800,"h":-7.3},
{"yr":2006,"x":-300,"h":5.9},{"yr":2006,"x":-289,"h":10.6},{"yr":2006,"x":-275,"h":9.9},{"yr":2006,"x":-260,"h":9.0},{"yr":2006,"x":-250,"h":7.0},{"yr":2006,"x":-240,"h":7.7},{"yr":2006,"x":-229,"h":10.3},{"yr":2006,"x":-220,"h":9.6},{"yr":2006,"x":-210,"h":6.8},{"yr":2006,"x":-200,"h":4.9},{"yr":2006,"x":-186,"h":5.0},{"yr":2006,"x":-172,"h":4.2},{"yr":2006,"x":-158,"h":4.2},{"yr":2006,"x":-140,"h":3.5},{"yr":2006,"x":-110,"h":2.9},{"yr":2006,"x":-60,"h":2.0},{"yr":2006,"x":-10,"h":0.4},{"yr":2006,"x":40,"h":-1.2},{"yr":2006,"x":93,"h":-2.7},{"yr":2006,"x":130,"h":-3.9},{"yr":2006,"x":170,"h":-7.0},{"yr":2006,"x":210,"h":-10.7},{"yr":2006,"x":250,"h":-14.7},{"yr":2006,"x":290,"h":-18.4},{"yr":2006,"x":320,"h":-19.4},{"yr":2006,"x":350,"h":-19.5},{"yr":2006,"x":385,"h":-18.8},{"yr":2006,"x":420,"h":-16.4},{"yr":2006,"x":460,"h":-13.2},{"yr":2006,"x":500,"h":-10.2},{"yr":2006,"x":525,"h":-8.3},{"yr":2006,"x":550,"h":-7.1},{"yr":2006,"x":580,"h":-6.0},{"yr":2006,"x":620,"h":-5.8},{"yr":2006,"x":670,"h":-5.9},{"yr":2006,"x":720,"h":-6.3},{"yr":2006,"x":770,"h":-6.7},{"yr":2006,"x":800,"h":-7.3},
{"yr":2007,"x":-300,"h":6.1},{"yr":2007,"x":-289,"h":10.6},{"yr":2007,"x":-275,"h":9.9},{"yr":2007,"x":-260,"h":9.1},{"yr":2007,"x":-250,"h":7.0},{"yr":2007,"x":-240,"h":7.7},{"yr":2007,"x":-229,"h":10.3},{"yr":2007,"x":-220,"h":9.6},{"yr":2007,"x":-210,"h":6.8},{"yr":2007,"x":-200,"h":4.9},{"yr":2007,"x":-186,"h":5.3},{"yr":2007,"x":-172,"h":4.4},{"yr":2007,"x":-158,"h":4.5},{"yr":2007,"x":-140,"h":3.7},{"yr":2007,"x":-110,"h":3.0},{"yr":2007,"x":-60,"h":2.1},{"yr":2007,"x":-10,"h":0.5},{"yr":2007,"x":40,"h":-1.1},{"yr":2007,"x":93,"h":-2.6},{"yr":2007,"x":130,"h":-3.9},{"yr":2007,"x":170,"h":-7.0},{"yr":2007,"x":210,"h":-10.7},{"yr":2007,"x":250,"h":-14.7},{"yr":2007,"x":290,"h":-18.4},{"yr":2007,"x":320,"h":-19.4},{"yr":2007,"x":350,"h":-19.4},{"yr":2007,"x":385,"h":-18.6},{"yr":2007,"x":420,"h":-16.3},{"yr":2007,"x":460,"h":-13.2},{"yr":2007,"x":500,"h":-10.2},{"yr":2007,"x":525,"h":-8.5},{"yr":2007,"x":550,"h":-7.3},{"yr":2007,"x":580,"h":-6.2},{"yr":2007,"x":620,"h":-5.8},{"yr":2007,"x":670,"h":-5.9},{"yr":2007,"x":720,"h":-6.3},{"yr":2007,"x":770,"h":-6.8},{"yr":2007,"x":800,"h":-7.4},
{"yr":2008,"x":-300,"h":6.3},{"yr":2008,"x":-289,"h":10.6},{"yr":2008,"x":-275,"h":9.9},{"yr":2008,"x":-260,"h":9.1},{"yr":2008,"x":-250,"h":7.0},{"yr":2008,"x":-240,"h":7.8},{"yr":2008,"x":-229,"h":10.4},{"yr":2008,"x":-220,"h":9.7},{"yr":2008,"x":-210,"h":6.9},{"yr":2008,"x":-200,"h":5.0},{"yr":2008,"x":-186,"h":5.6},{"yr":2008,"x":-172,"h":4.6},{"yr":2008,"x":-158,"h":4.8},{"yr":2008,"x":-140,"h":3.9},{"yr":2008,"x":-110,"h":3.0},{"yr":2008,"x":-60,"h":2.2},{"yr":2008,"x":-10,"h":0.7},{"yr":2008,"x":40,"h":-0.9},{"yr":2008,"x":93,"h":-2.4},{"yr":2008,"x":130,"h":-3.8},{"yr":2008,"x":170,"h":-7.0},{"yr":2008,"x":210,"h":-10.8},{"yr":2008,"x":250,"h":-14.7},{"yr":2008,"x":290,"h":-18.4},{"yr":2008,"x":320,"h":-19.3},{"yr":2008,"x":350,"h":-19.3},{"yr":2008,"x":385,"h":-18.4},{"yr":2008,"x":420,"h":-16.2},{"yr":2008,"x":460,"h":-13.1},{"yr":2008,"x":500,"h":-10.3},{"yr":2008,"x":525,"h":-8.7},{"yr":2008,"x":550,"h":-7.6},{"yr":2008,"x":580,"h":-6.4},{"yr":2008,"x":620,"h":-5.9},{"yr":2008,"x":670,"h":-5.9},{"yr":2008,"x":720,"h":-6.4},{"yr":2008,"x":770,"h":-6.8},{"yr":2008,"x":800,"h":-7.4},
{"yr":2009,"x":-300,"h":6.4},{"yr":2009,"x":-289,"h":10.7},{"yr":2009,"x":-275,"h":9.9},{"yr":2009,"x":-260,"h":9.1},{"yr":2009,"x":-250,"h":7.1},{"yr":2009,"x":-240,"h":7.8},{"yr":2009,"x":-229,"h":10.4},{"yr":2009,"x":-220,"h":9.7},{"yr":2009,"x":-210,"h":6.9},{"yr":2009,"x":-200,"h":5.0},{"yr":2009,"x":-186,"h":5.8},{"yr":2009,"x":-172,"h":4.8},{"yr":2009,"x":-158,"h":5.1},{"yr":2009,"x":-140,"h":4.0},{"yr":2009,"x":-110,"h":3.1},{"yr":2009,"x":-60,"h":2.3},{"yr":2009,"x":-10,"h":0.9},{"yr":2009,"x":40,"h":-0.7},{"yr":2009,"x":93,"h":-2.3},{"yr":2009,"x":130,"h":-3.8},{"yr":2009,"x":170,"h":-7.0},{"yr":2009,"x":210,"h":-10.8},{"yr":2009,"x":250,"h":-14.7},{"yr":2009,"x":290,"h":-18.4},{"yr":2009,"x":320,"h":-19.3},{"yr":2009,"x":350,"h":-19.2},{"yr":2009,"x":385,"h":-18.3},{"yr":2009,"x":420,"h":-16.1},{"yr":2009,"x":460,"h":-13.1},{"yr":2009,"x":500,"h":-10.3},{"yr":2009,"x":525,"h":-8.9},{"yr":2009,"x":550,"h":-7.8},{"yr":2009,"x":580,"h":-6.6},{"yr":2009,"x":620,"h":-6.0},{"yr":2009,"x":670,"h":-5.9},{"yr":2009,"x":720,"h":-6.4},{"yr":2009,"x":770,"h":-6.9},{"yr":2009,"x":800,"h":-7.5},
{"yr":2010,"x":-300,"h":6.6},{"yr":2010,"x":-289,"h":10.7},{"yr":2010,"x":-275,"h":9.9},{"yr":2010,"x":-260,"h":9.1},{"yr":2010,"x":-250,"h":7.1},{"yr":2010,"x":-240,"h":7.9},{"yr":2010,"x":-229,"h":10.5},{"yr":2010,"x":-220,"h":9.7},{"yr":2010,"x":-210,"h":6.9},{"yr":2010,"x":-200,"h":5.1},{"yr":2010,"x":-186,"h":6.2},{"yr":2010,"x":-172,"h":5.1},{"yr":2010,"x":-158,"h":5.5},{"yr":2010,"x":-140,"h":4.3},{"yr":2010,"x":-110,"h":3.1},{"yr":2010,"x":-60,"h":2.4},{"yr":2010,"x":-10,"h":1.1},{"yr":2010,"x":40,"h":-0.5},{"yr":2010,"x":93,"h":-2.2},{"yr":2010,"x":130,"h":-3.7},{"yr":2010,"x":170,"h":-7.0},{"yr":2010,"x":210,"h":-10.8},{"yr":2010,"x":250,"h":-14.7},{"yr":2010,"x":290,"h":-18.4},{"yr":2010,"x":320,"h":-19.2},{"yr":2010,"x":350,"h":-19.1},{"yr":2010,"x":385,"h":-18.1},{"yr":2010,"x":420,"h":-16.0},{"yr":2010,"x":460,"h":-13.0},{"yr":2010,"x":500,"h":-10.4},{"yr":2010,"x":525,"h":-9.1},{"yr":2010,"x":550,"h":-8.0},{"yr":2010,"x":580,"h":-6.8},{"yr":2010,"x":620,"h":-6.1},{"yr":2010,"x":670,"h":-6.0},{"yr":2010,"x":720,"h":-6.5},{"yr":2010,"x":770,"h":-6.9},{"yr":2010,"x":800,"h":-7.6},
{"yr":2011,"x":-300,"h":6.7},{"yr":2011,"x":-289,"h":10.7},{"yr":2011,"x":-275,"h":9.9},{"yr":2011,"x":-260,"h":9.2},{"yr":2011,"x":-250,"h":7.1},{"yr":2011,"x":-240,"h":7.9},{"yr":2011,"x":-229,"h":10.6},{"yr":2011,"x":-220,"h":9.8},{"yr":2011,"x":-210,"h":7.0},{"yr":2011,"x":-200,"h":5.1},{"yr":2011,"x":-186,"h":6.6},{"yr":2011,"x":-172,"h":5.4},{"yr":2011,"x":-158,"h":5.9},{"yr":2011,"x":-140,"h":4.6},{"yr":2011,"x":-110,"h":3.2},{"yr":2011,"x":-60,"h":2.5},{"yr":2011,"x":-10,"h":1.3},{"yr":2011,"x":40,"h":-0.3},{"yr":2011,"x":93,"h":-2.0},{"yr":2011,"x":130,"h":-3.7},{"yr":2011,"x":170,"h":-7.0},{"yr":2011,"x":210,"h":-10.8},{"yr":2011,"x":250,"h":-14.6},{"yr":2011,"x":290,"h":-18.3},{"yr":2011,"x":320,"h":-19.1},{"yr":2011,"x":350,"h":-19.0},{"yr":2011,"x":385,"h":-17.9},{"yr":2011,"x":420,"h":-15.8},{"yr":2011,"x":460,"h":-12.9},{"yr":2011,"x":500,"h":-10.4},{"yr":2011,"x":525,"h":-9.3},{"yr":2011,"x":550,"h":-8.3},{"yr":2011,"x":580,"h":-7.0},{"yr":2011,"x":620,"h":-6.2},{"yr":2011,"x":670,"h":-6.0},{"yr":2011,"x":720,"h":-6.5},{"yr":2011,"x":770,"h":-7.0},{"yr":2011,"x":800,"h":-7.6},
{"yr":2012,"x":-300,"h":6.9},{"yr":2012,"x":-289,"h":10.8},{"yr":2012,"x":-275,"h":9.9},{"yr":2012,"x":-260,"h":9.2},{"yr":2012,"x":-250,"h":7.2},{"yr":2012,"x":-240,"h":8.0},{"yr":2012,"x":-229,"h":10.6},{"yr":2012,"x":-220,"h":9.8},{"yr":2012,"x":-210,"h":7.0},{"yr":2012,"x":-200,"h":5.2},{"yr":2012,"x":-186,"h":7.0},{"yr":2012,"x":-172,"h":5.7},{"yr":2012,"x":-158,"h":6.3},{"yr":2012,"x":-140,"h":4.8},{"yr":2012,"x":-110,"h":3.3},{"yr":2012,"x":-60,"h":2.5},{"yr":2012,"x":-10,"h":1.5},{"yr":2012,"x":40,"h":-0.1},{"yr":2012,"x":93,"h":-1.9},{"yr":2012,"x":130,"h":-3.6},{"yr":2012,"x":170,"h":-7.0},{"yr":2012,"x":210,"h":-10.8},{"yr":2012,"x":250,"h":-14.6},{"yr":2012,"x":290,"h":-18.3},{"yr":2012,"x":320,"h":-19.0},{"yr":2012,"x":350,"h":-18.9},{"yr":2012,"x":385,"h":-17.8},{"yr":2012,"x":420,"h":-15.7},{"yr":2012,"x":460,"h":-12.9},{"yr":2012,"x":500,"h":-10.5},{"yr":2012,"x":525,"h":-9.5},{"yr":2012,"x":550,"h":-8.5},{"yr":2012,"x":580,"h":-7.2},{"yr":2012,"x":620,"h":-6.3},{"yr":2012,"x":670,"h":-6.1},{"yr":2012,"x":720,"h":-6.6},{"yr":2012,"x":770,"h":-7.1},{"yr":2012,"x":800,"h":-7.7},
{"yr":2013,"x":-300,"h":7.0},{"yr":2013,"x":-289,"h":10.8},{"yr":2013,"x":-275,"h":9.9},{"yr":2013,"x":-260,"h":9.2},{"yr":2013,"x":-250,"h":7.2},{"yr":2013,"x":-240,"h":8.0},{"yr":2013,"x":-229,"h":10.7},{"yr":2013,"x":-220,"h":9.8},{"yr":2013,"x":-210,"h":7.0},{"yr":2013,"x":-200,"h":5.2},{"yr":2013,"x":-186,"h":7.4},{"yr":2013,"x":-172,"h":5.9},{"yr":2013,"x":-158,"h":6.7},{"yr":2013,"x":-140,"h":5.0},{"yr":2013,"x":-110,"h":3.3},{"yr":2013,"x":-60,"h":2.6},{"yr":2013,"x":-10,"h":1.6},{"yr":2013,"x":40,"h":0.0},{"yr":2013,"x":93,"h":-1.8},{"yr":2013,"x":130,"h":-3.6},{"yr":2013,"x":170,"h":-7.0},{"yr":2013,"x":210,"h":-10.8},{"yr":2013,"x":250,"h":-14.6},{"yr":2013,"x":290,"h":-18.3},{"yr":2013,"x":320,"h":-19.0},{"yr":2013,"x":350,"h":-18.8},{"yr":2013,"x":385,"h":-17.7},{"yr":2013,"x":420,"h":-15.6},{"yr":2013,"x":460,"h":-12.8},{"yr":2013,"x":500,"h":-10.5},{"yr":2013,"x":525,"h":-9.6},{"yr":2013,"x":550,"h":-8.6},{"yr":2013,"x":580,"h":-7.3},{"yr":2013,"x":620,"h":-6.4},{"yr":2013,"x":670,"h":-6.1},{"yr":2013,"x":720,"h":-6.6},{"yr":2013,"x":770,"h":-7.1},{"yr":2013,"x":800,"h":-7.7},
{"yr":2014,"x":-300,"h":7.1},{"yr":2014,"x":-289,"h":10.9},{"yr":2014,"x":-275,"h":10.0},{"yr":2014,"x":-260,"h":9.3},{"yr":2014,"x":-250,"h":7.3},{"yr":2014,"x":-240,"h":8.1},{"yr":2014,"x":-229,"h":10.8},{"yr":2014,"x":-220,"h":9.9},{"yr":2014,"x":-210,"h":7.1},{"yr":2014,"x":-200,"h":5.3},{"yr":2014,"x":-186,"h":7.5},{"yr":2014,"x":-172,"h":6.0},{"yr":2014,"x":-158,"h":6.8},{"yr":2014,"x":-140,"h":5.1},{"yr":2014,"x":-110,"h":3.4},{"yr":2014,"x":-60,"h":2.7},{"yr":2014,"x":-10,"h":1.7},{"yr":2014,"x":40,"h":0.1},{"yr":2014,"x":93,"h":-1.7},{"yr":2014,"x":130,"h":-3.5},{"yr":2014,"x":150,"h":-5.2},{"yr":2014,"x":178,"h":-7.4},{"yr":2014,"x":206,"h":-9.0},{"yr":2014,"x":234,"h":-10.5},{"yr":2014,"x":256,"h":-12.3},{"yr":2014,"x":284,"h":-14.6},{"yr":2014,"x":305,"h":-15.0},{"yr":2014,"x":326,"h":-15.5},{"yr":2014,"x":347,"h":-15.9},{"yr":2014,"x":368,"h":-16.3},{"yr":2014,"x":393,"h":-16.4},{"yr":2014,"x":411,"h":-16.0},{"yr":2014,"x":432,"h":-14.9},{"yr":2014,"x":460,"h":-12.9},{"yr":2014,"x":500,"h":-10.4},{"yr":2014,"x":525,"h":-9.5},{"yr":2014,"x":550,"h":-8.4},{"yr":2014,"x":580,"h":-7.1},{"yr":2014,"x":620,"h":-6.3},{"yr":2014,"x":670,"h":-6.0},{"yr":2014,"x":720,"h":-6.5},{"yr":2014,"x":770,"h":-7.0},{"yr":2014,"x":800,"h":-7.6}
]
},
"vconcat":[
{"resolve":{"scale":{"color":"independent"},"legend":{"color":"independent"}},"hconcat":[
{"width":537,"height":344,"title":{"text":"Noord-Beveland - 340","dx":-23,"offset":5},"data":{"name":"tl"},"mark":{"type":"line","strokeWidth":1.5,"clip":true},
"encoding":{"x":{"field":"x","type":"quantitative","scale":{"domain":[-300,800],"nice":false},"axis":{"values":[-300,-200,-100,0,100,200,300,400,500,600,700,800],"title":null}},
"y":{"field":"h","type":"quantitative","scale":{"domain":[-22.6,11.6],"nice":false,"zero":false},"axis":{"values":[-22,-20,-18,-16,-14,-12,-10,-8,-6,-4,-2,0,2,4,6,8,10],"title":"Height (m+NAP)","titlePadding":6}},
"color":{"field":"yr","type":"nominal","scale":{"domain":[1965,1966,1967,1968,1969,1972,1973],"range":["#ee1c1c","#f03324","#f2482a","#f45e2e","#f67332","#f88a38","#fa9c3e"]},"legend":{"orient":"top-right","offset":10}}}},
{"width":537,"height":344,"title":{"text":"Noord-Beveland - 340","dx":-23,"offset":5},"data":{"name":"tr"},"mark":{"type":"line","strokeWidth":1.5,"clip":true},
"encoding":{"x":{"field":"x","type":"quantitative","scale":{"domain":[-300,800],"nice":false},"axis":{"values":[-300,-200,-100,0,100,200,300,400,500,600,700,800],"title":null}},
"y":{"field":"h","type":"quantitative","scale":{"domain":[-22.6,11.6],"nice":false,"zero":false},"axis":{"values":[-22,-20,-18,-16,-14,-12,-10,-8,-6,-4,-2,0,2,4,6,8,10],"title":null}},
"color":{"field":"yr","type":"nominal","scale":{"domain":[1973,1974,1975,1976,1977,1978,1979,1980,1981,1982,1983,1984,1985,1986,1987],"range":["#fa9c3e","#fbaa30","#fcbb2c","#fdcf2c","#fde22c","#fdf02e","#eef02c","#d9ea2c","#c4e22c","#b0d82c","#9ccf2c","#88c62c","#76bd2c","#64b42c","#6cbb3c"]},"legend":{"orient":"bottom-left","offset":12}}}}
],"spacing":-3},
{"resolve":{"scale":{"color":"independent"},"legend":{"color":"independent"}},"hconcat":[
{"width":537,"height":344,"data":{"name":"bl"},"mark":{"type":"line","strokeWidth":1.5,"clip":true},
"encoding":{"x":{"field":"x","type":"quantitative","scale":{"domain":[-300,800],"nice":false},"axis":{"values":[-300,-200,-100,0,100,200,300,400,500,600,700,800],"title":"Cross-shore distance (m+RSP)","titlePadding":2}},
"y":{"field":"h","type":"quantitative","scale":{"domain":[-22.6,11.6],"nice":false,"zero":false},"axis":{"values":[-22,-20,-18,-16,-14,-12,-10,-8,-6,-4,-2,0,2,4,6,8,10],"title":"Height (m+NAP)","titlePadding":6}},
"color":{"field":"yr","type":"nominal","scale":{"domain":[1987,1988,1989,1990,1991,1992,1993,1994,1995,1996,1997],"range":["#7cc444","#66b83c","#50aa38","#3c9c30","#2e9030","#2ea04c","#30ac60","#30b670","#30c080","#30ca90","#30d4a0"]},"legend":{"orient":"top-right","offset":6}}}},
{"width":537,"height":344,"data":{"name":"br"},"mark":{"type":"line","strokeWidth":1.5,"clip":true},
"encoding":{"x":{"field":"x","type":"quantitative","scale":{"domain":[-300,800],"nice":false},"axis":{"values":[-300,-200,-100,0,100,200,300,400,500,600,700,800],"title":"Cross-shore distance (m+RSP)","titlePadding":2}},
"y":{"field":"h","type":"quantitative","scale":{"domain":[-22.6,11.6],"nice":false,"zero":false},"axis":{"values":[-22,-20,-18,-16,-14,-12,-10,-8,-6,-4,-2,0,2,4,6,8,10],"title":null}},
"color":{"field":"yr","type":"nominal","scale":{"domain":[1997,1998,1999,2000,2001,2002,2003,2004,2005,2006,2007,2008,2009,2010,2011,2012,2013,2014],"range":["#30c89a","#30d4a8","#30dcb8","#30e4cc","#30ecdc","#30eeee","#30e4f4","#30d4f4","#30c4f4","#30b4f4","#30a4f4","#3094f4","#3084f4","#3074f4","#3064f0","#2850ee","#2038e8","#3838e4"]},"legend":{"orient":"bottom-left","offset":8}}}}
],"spacing":-3}
],
"spacing":2
}
